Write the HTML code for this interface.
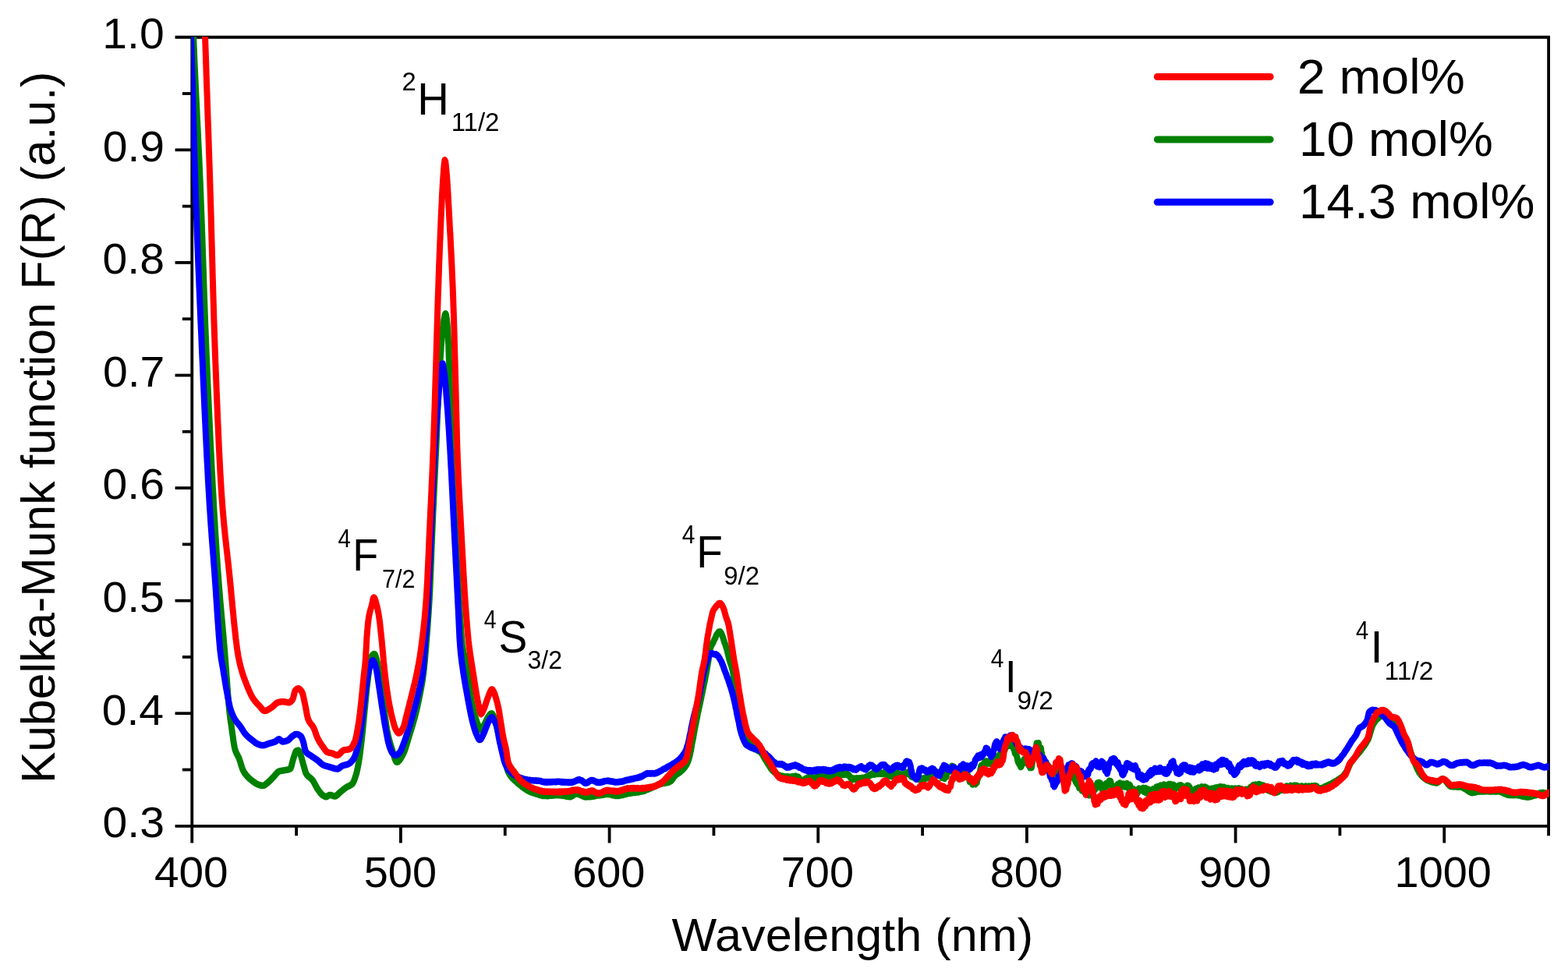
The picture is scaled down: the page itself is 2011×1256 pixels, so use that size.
<!DOCTYPE html>
<html lang="en"><head><meta charset="utf-8"><title>Kubelka-Munk function F(R) vs Wavelength</title>
<style>html,body{margin:0;padding:0;background:#fff}body{width:2011px;height:1256px;overflow:hidden}svg{display:block}text{font-family:'Liberation Sans', Arial, Helvetica, sans-serif;fill:#000}</style>
</head><body>
<svg xmlns="http://www.w3.org/2000/svg" width="2011" height="1256" viewBox="0 0 2011 1256">
<rect x="0" y="0" width="2011" height="1256" fill="#fff"/>
<defs><clipPath id="plot"><rect x="245.40" y="47.10" width="1741.30" height="1013.50"/></clipPath></defs>
<g stroke="#000" stroke-width="3.80" fill="none" stroke-linecap="butt">
<path d="M224.55,47.75 H1988.00"/>
<path d="M224.55,1059.80 H1988.00"/>
<path d="M246.25,47.75 V1081.50"/>
<path d="M1986.10,47.75 V1072.20"/>
<path d="M224.55,192.33 H246.25"/>
<path d="M224.55,336.91 H246.25"/>
<path d="M224.55,481.49 H246.25"/>
<path d="M224.55,626.06 H246.25"/>
<path d="M224.55,770.64 H246.25"/>
<path d="M224.55,915.22 H246.25"/>
<path d="M233.85,120.04 H246.25"/>
<path d="M233.85,264.62 H246.25"/>
<path d="M233.85,409.20 H246.25"/>
<path d="M233.85,553.78 H246.25"/>
<path d="M233.85,698.35 H246.25"/>
<path d="M233.85,842.93 H246.25"/>
<path d="M233.85,987.51 H246.25"/>
<path d="M513.92,1059.80 V1081.50"/>
<path d="M781.59,1059.80 V1081.50"/>
<path d="M1049.26,1059.80 V1081.50"/>
<path d="M1316.93,1059.80 V1081.50"/>
<path d="M1584.60,1059.80 V1081.50"/>
<path d="M1852.27,1059.80 V1081.50"/>
<path d="M380.08,1059.80 V1072.20"/>
<path d="M647.75,1059.80 V1072.20"/>
<path d="M915.42,1059.80 V1072.20"/>
<path d="M1183.09,1059.80 V1072.20"/>
<path d="M1450.76,1059.80 V1072.20"/>
<path d="M1718.43,1059.80 V1072.20"/>
</g>
<g clip-path="url(#plot)"><g transform="scale(0.940,1)" fill="none" stroke-width="8.50">
<path stroke="#008000" stroke-linejoin="round" stroke-linecap="round" d="M1072.9,997.0 1073.5,997.2 1074.1,997.0 1074.8,996.4 1075.4,996.9 1076.1,996.7 1076.7,996.8 1077.3,996.8 1078.0,996.9 1078.6,997.2 1079.3,996.4 1079.9,996.5 1080.5,996.7 1081.2,997.1 1081.8,996.2 1082.4,996.3 1083.1,996.1 1083.7,996.6 1084.4,996.5 1085.0,996.3 1085.6,995.8 1086.3,996.6 1086.9,996.6 1087.6,996.5 1088.2,996.8 1088.8,996.6 1089.5,997.0 1090.1,997.9 1090.7,998.8 1091.4,999.5 1092.0,1000.5 1092.7,1000.4 1093.3,1001.3 1093.9,1001.7 1094.6,1001.2 1095.2,1001.7 1095.9,1001.5 1096.5,1001.3 1097.1,1000.5 1097.8,1000.1 1098.4,999.4 1099.0,998.9 1099.7,999.9 1100.3,999.0 1101.0,999.2 1101.6,997.7 1102.2,997.6 1102.9,997.5 1103.5,997.2 1104.1,998.1 1104.8,998.7 1105.4,997.9 1106.1,997.6 1106.7,997.9 1107.3,997.4 1108.0,998.1 1108.6,998.9 1109.3,998.9 1109.9,997.7 1110.5,997.8 1111.2,998.8 1111.8,998.0 1112.4,999.0 1113.1,998.9 1113.7,998.0 1114.4,997.6 1115.0,997.4 1115.6,996.1 1116.3,996.8 1116.9,996.4 1117.6,995.3 1118.2,996.2 1118.8,995.3 1119.5,995.5 1120.1,996.4 1120.7,996.0 1121.4,995.5 1122.0,995.4 1122.7,997.0 1123.3,996.0 1123.9,996.3 1124.6,996.4 1125.2,996.6 1125.9,996.7 1126.5,997.8 1127.1,997.4 1127.8,996.7 1128.4,998.0 1129.0,997.5 1129.7,997.3 1130.3,997.2 1131.0,997.6 1131.6,998.4 1132.2,997.1 1132.9,997.5 1133.5,997.7 1134.1,998.6 1134.8,998.4 1135.4,998.3 1136.1,997.0 1136.7,997.3 1137.3,998.1 1138.0,996.9 1138.6,997.0 1139.3,996.0 1139.9,995.8 1140.5,995.7 1141.2,995.1 1141.8,995.4 1142.4,995.0 1143.1,995.0 1143.7,994.6 1144.4,994.1 1145.0,993.3 1145.6,993.7 1146.3,994.2 1146.9,993.5 1147.6,992.9 1148.2,993.4 1148.8,993.4 1149.5,993.7 1150.1,993.9 1150.7,992.4 1151.4,992.8 1152.0,992.6 1152.7,992.4 1153.3,993.9 1153.9,993.2 1154.6,992.5 1155.2,993.9 1155.9,993.8 1156.5,993.1 1157.1,993.3 1157.8,994.4 1158.4,994.8 1159.0,995.5 1159.7,997.1 1160.3,997.1 1161.0,998.2 1161.6,999.1 1162.2,998.0 1162.9,1000.1 1163.5,1000.3 1164.1,1000.1 1164.8,998.7 1165.4,998.7 1166.1,998.7 1166.7,999.3 1167.3,1000.0 1168.0,999.9 1168.6,998.3 1169.3,999.6 1169.9,998.5 1170.5,998.6 1171.2,998.5 1171.8,999.6 1172.4,998.6 1173.1,999.6 1173.7,998.3 1174.4,998.3 1175.0,998.0 1175.6,998.1 1176.3,997.8 1176.9,997.8 1177.6,998.6 1178.2,998.0 1178.8,998.8 1179.5,997.8 1180.1,998.0 1180.7,997.0 1181.4,998.2 1182.0,997.5 1182.7,996.4 1183.3,997.0 1183.9,995.6 1184.6,995.8 1185.2,995.8 1185.9,995.6 1186.5,994.9 1187.1,993.9 1187.8,993.4 1188.4,994.2 1189.0,993.8 1189.7,993.4 1190.3,992.4 1191.0,992.7 1191.6,993.8 1192.2,992.5 1192.9,993.8 1193.5,992.6 1194.1,992.6 1194.8,991.8 1195.4,992.1 1196.1,992.9 1196.7,992.7 1197.3,993.1 1198.0,991.6 1198.6,991.6 1199.3,992.2 1199.9,992.8 1200.5,992.3 1201.2,992.6 1201.8,991.3 1202.4,992.9 1203.1,992.5 1203.7,992.6 1204.4,993.0 1205.0,992.8 1205.6,991.5 1206.3,991.8 1206.9,992.4 1207.6,993.3 1208.2,992.2 1208.8,992.6 1209.5,993.9 1210.1,992.8 1210.7,994.5 1211.4,993.9 1212.0,995.0 1212.7,994.7 1213.3,995.2 1213.9,995.6 1214.6,994.5 1215.2,995.2 1215.9,996.0 1216.5,995.5 1217.1,994.2 1217.8,994.9 1218.4,994.7 1219.0,992.8 1219.7,994.2 1220.3,993.1 1221.0,993.0 1221.6,992.5 1222.2,991.9 1222.9,992.7 1223.5,993.2 1224.1,992.5 1224.8,991.6 1225.4,992.9 1226.1,992.7 1226.7,994.0 1227.3,993.3 1228.0,994.6 1228.6,994.7 1229.3,993.3 1229.9,994.6 1230.5,994.1 1231.2,994.0 1231.8,994.8 1232.4,995.3 1233.1,994.8 1233.7,993.0 1234.4,993.8 1235.0,993.5 1235.6,992.3 1236.3,993.0 1236.9,992.8 1237.6,990.7 1238.2,990.7 1238.8,991.4 1239.5,990.9 1240.1,992.1 1240.7,992.7 1241.4,994.3 1242.0,994.8 1242.7,995.5 1243.3,996.0 1243.9,996.7 1244.6,996.1 1245.2,995.8 1245.9,996.7 1246.5,997.0 1247.1,997.7 1247.8,997.5 1248.4,998.8 1249.0,998.4 1249.7,998.3 1250.3,998.2 1251.0,998.7 1251.6,999.7 1252.2,999.1 1252.9,998.8 1253.5,1000.1 1254.1,999.4 1254.8,999.3 1255.4,1000.1 1256.1,998.9 1256.7,999.1 1257.3,999.3 1258.0,1000.3 1258.6,998.4 1259.3,1000.1 1259.9,999.8 1260.5,998.3 1261.2,999.5 1261.8,999.5 1262.4,999.3 1263.1,998.1 1263.7,998.2 1264.4,997.3 1265.0,996.6 1265.6,997.6 1266.3,997.9 1266.9,996.5 1267.6,995.6 1268.2,995.6 1268.8,993.8 1269.5,994.4 1270.1,993.0 1270.7,992.3 1271.4,991.4 1272.0,992.9 1272.7,992.3 1273.3,991.7 1273.9,991.7 1274.6,991.2 1275.2,990.7 1275.9,988.9 1276.5,990.9 1277.1,991.5 1277.8,991.4 1278.4,991.3 1279.0,991.4 1279.7,990.8 1280.3,991.1 1281.0,992.5 1281.6,993.6 1282.2,992.1 1282.9,994.3 1283.5,993.4 1284.1,993.9 1284.8,994.8 1285.4,998.1 1286.1,995.9 1286.7,997.5 1287.3,997.4 1288.0,998.2 1288.6,999.0 1289.3,996.0 1289.9,996.6 1290.5,994.0 1291.2,996.6 1291.8,991.9 1292.4,991.4 1293.1,991.5 1293.7,990.8 1294.4,988.5 1295.0,990.0 1295.6,987.9 1296.3,989.3 1296.9,985.7 1297.6,984.0 1298.2,987.2 1298.8,982.7 1299.5,984.5 1300.1,983.4 1300.7,986.2 1301.4,983.6 1302.0,985.0 1302.7,988.1 1303.3,988.8 1303.9,989.3 1304.6,990.5 1305.2,992.9 1305.9,994.7 1306.5,997.7 1307.1,996.3 1307.8,995.8 1308.4,999.6 1309.0,999.1 1309.7,998.4 1310.3,995.0 1311.0,996.6 1311.6,995.0 1312.2,993.5 1312.9,995.5 1313.5,994.0 1314.1,993.4 1314.8,989.8 1315.4,989.0 1316.1,992.1 1316.7,990.8 1317.3,987.7 1318.0,989.5 1318.6,991.5 1319.3,990.9 1319.9,994.4 1320.5,994.8 1321.2,996.6 1321.8,998.8 1322.4,999.3 1323.1,1002.8 1323.7,1002.7 1324.4,1002.8 1325.0,1002.0 1325.6,1003.4 1326.3,1003.1 1326.9,1006.5 1327.6,1004.7 1328.2,1004.2 1328.8,1004.4 1329.5,1004.6 1330.1,1004.7 1330.7,1006.2 1331.4,1004.7 1332.0,1002.2 1332.7,1004.4 1333.3,1001.2 1333.9,997.9 1334.6,998.1 1335.2,996.7 1335.9,994.5 1336.5,995.1 1337.1,989.9 1337.8,986.4 1338.4,983.3 1339.0,981.8 1339.7,984.9 1340.3,983.6 1341.0,981.1 1341.6,980.4 1342.2,979.7 1342.9,979.2 1343.5,977.3 1344.1,978.1 1344.8,979.3 1345.4,976.6 1346.1,976.6 1346.7,979.6 1347.3,976.7 1348.0,979.7 1348.6,977.4 1349.3,977.2 1349.9,979.6 1350.5,976.7 1351.2,979.9 1351.8,979.9 1352.4,979.1 1353.1,978.0 1353.7,976.8 1354.4,978.0 1355.0,976.0 1355.6,978.7 1356.3,976.7 1356.9,976.3 1357.6,975.5 1358.2,975.3 1358.8,972.8 1359.5,974.0 1360.1,975.5 1360.7,974.1 1361.4,970.6 1362.0,973.6 1362.7,970.8 1363.3,968.8 1363.9,971.3 1364.6,966.9 1365.2,967.2 1365.9,964.8 1366.5,968.1 1367.1,963.4 1367.8,963.2 1368.4,965.7 1369.0,965.4 1369.7,963.9 1370.3,960.4 1371.0,962.1 1371.6,959.0 1372.2,958.1 1372.9,958.6 1373.5,956.5 1374.1,954.1 1374.8,954.4 1375.4,955.7 1376.1,956.8 1376.7,954.3 1377.3,953.1 1378.0,952.7 1378.6,956.8 1379.3,955.6 1379.9,953.4 1380.5,954.3 1381.2,955.9 1381.8,957.5 1382.4,957.9 1383.1,961.2 1383.7,961.4 1384.4,964.7 1385.0,966.6 1385.6,967.4 1386.3,968.4 1386.9,969.3 1387.6,971.0 1388.2,974.3 1388.8,976.7 1389.5,978.4 1390.1,977.3 1390.7,980.5 1391.4,980.5 1392.0,981.5 1392.7,984.1 1393.3,983.6 1393.9,980.1 1394.6,980.7 1395.2,976.9 1395.9,976.6 1396.5,976.9 1397.1,974.3 1397.8,973.7 1398.4,975.9 1399.0,974.5 1399.7,978.7 1400.3,977.0 1401.0,977.6 1401.6,975.9 1402.2,975.6 1402.9,980.0 1403.5,981.8 1404.1,980.2 1404.8,980.0 1405.4,985.1 1406.1,983.3 1406.7,983.3 1407.3,985.0 1408.0,981.7 1408.6,977.3 1409.3,974.8 1409.9,973.0 1410.5,969.3 1411.2,965.5 1411.8,964.3 1412.4,963.2 1413.1,961.2 1413.7,959.0 1414.4,953.4 1415.0,955.9 1415.6,956.6 1416.3,957.5 1416.9,953.3 1417.6,958.2 1418.2,958.5 1418.8,959.0 1419.5,961.3 1420.1,959.3 1420.7,964.3 1421.4,966.0 1422.0,969.8 1422.7,971.6 1423.3,976.3 1423.9,976.4 1424.6,975.1 1425.2,976.5 1425.9,978.0 1426.5,979.2 1427.1,977.7 1427.8,981.0 1428.4,982.7 1429.0,983.4 1429.7,981.9 1430.3,982.7 1431.0,985.9 1431.6,984.0 1432.2,984.2 1432.9,986.5 1433.5,985.3 1434.1,988.7 1434.8,989.8 1435.4,990.8 1436.1,990.1 1436.7,993.8 1437.3,992.3 1438.0,991.5 1438.6,990.2 1439.3,991.6 1439.9,987.9 1440.5,990.3 1441.2,990.4 1441.8,988.1 1442.4,984.3 1443.1,986.5 1443.7,987.2 1444.4,986.2 1445.0,986.1 1445.6,985.3 1446.3,982.8 1446.9,984.9 1447.6,985.7 1448.2,984.8 1448.8,991.1 1449.5,990.6 1450.1,993.4 1450.7,996.4 1451.4,996.0 1452.0,999.7 1452.7,996.9 1453.3,999.9 1453.9,1003.7 1454.6,1003.6 1455.2,1002.4 1455.9,999.1 1456.5,999.7 1457.1,999.8 1457.8,996.8 1458.4,995.2 1459.0,992.4 1459.7,992.5 1460.3,989.4 1461.0,989.6 1461.6,993.4 1462.2,990.8 1462.9,994.3 1463.5,995.6 1464.1,995.8 1464.8,997.5 1465.4,998.3 1466.1,1000.3 1466.7,996.8 1467.3,999.0 1468.0,1004.0 1468.6,1000.2 1469.3,1003.2 1469.9,1006.4 1470.5,1006.0 1471.2,1004.1 1471.8,1004.3 1472.4,1010.9 1473.1,1009.7 1473.7,1008.9 1474.4,1011.3 1475.0,1008.3 1475.6,1012.5 1476.3,1014.5 1476.9,1012.0 1477.6,1012.5 1478.2,1013.5 1478.8,1012.7 1479.5,1016.2 1480.1,1017.0 1480.7,1017.4 1481.4,1018.1 1482.0,1017.2 1482.7,1017.9 1483.3,1015.4 1483.9,1018.2 1484.6,1019.1 1485.2,1015.5 1485.9,1020.3 1486.5,1015.3 1487.1,1017.3 1487.8,1020.2 1488.4,1014.1 1489.0,1014.7 1489.7,1016.6 1490.3,1017.6 1491.0,1016.8 1491.6,1013.3 1492.2,1010.1 1492.9,1012.7 1493.5,1013.5 1494.1,1009.0 1494.8,1012.2 1495.4,1007.5 1496.1,1009.9 1496.7,1007.9 1497.3,1004.5 1498.0,1006.6 1498.6,1006.1 1499.3,1003.9 1499.9,1007.7 1500.5,1004.1 1501.2,1009.6 1501.8,1005.8 1502.4,1009.5 1503.1,1012.0 1503.7,1007.5 1504.4,1007.5 1505.0,1008.8 1505.6,1007.4 1506.3,1009.6 1506.9,1010.9 1507.6,1008.1 1508.2,1007.6 1508.8,1009.9 1509.5,1004.9 1510.1,1006.2 1510.7,1004.8 1511.4,1004.2 1512.0,1006.0 1512.7,1006.2 1513.3,1001.8 1513.9,1004.0 1514.6,1003.1 1515.2,1002.1 1515.9,1005.7 1516.5,1006.9 1517.1,1007.3 1517.8,1011.5 1518.4,1012.4 1519.0,1010.3 1519.7,1012.0 1520.3,1008.9 1521.0,1013.5 1521.6,1008.9 1522.2,1008.9 1522.9,1009.8 1523.5,1010.0 1524.1,1009.2 1524.8,1006.6 1525.4,1005.6 1526.1,1005.5 1526.7,1010.1 1527.3,1009.6 1528.0,1004.5 1528.6,1006.6 1529.3,1009.1 1529.9,1006.4 1530.5,1007.4 1531.2,1008.7 1531.8,1005.8 1532.4,1005.5 1533.1,1009.1 1533.7,1009.2 1534.4,1007.6 1535.0,1009.5 1535.6,1007.4 1536.3,1007.6 1536.9,1007.4 1537.6,1005.0 1538.2,1008.7 1538.8,1007.3 1539.5,1011.3 1540.1,1011.7 1540.7,1006.6 1541.4,1011.0 1542.0,1007.8 1542.7,1012.9 1543.3,1012.1 1543.9,1013.5 1544.6,1012.0 1545.2,1015.0 1545.9,1016.5 1546.5,1012.3 1547.1,1013.3 1547.8,1017.3 1548.4,1013.9 1549.0,1013.6 1549.7,1013.8 1550.3,1016.5 1551.0,1013.9 1551.6,1018.3 1552.2,1016.9 1552.9,1014.6 1553.5,1012.1 1554.1,1011.6 1554.8,1012.1 1555.4,1013.2 1556.1,1013.9 1556.7,1012.8 1557.3,1013.8 1558.0,1012.2 1558.6,1013.9 1559.3,1012.8 1559.9,1010.8 1560.5,1015.7 1561.2,1016.0 1561.8,1014.1 1562.4,1011.4 1563.1,1011.1 1563.7,1017.3 1564.4,1016.2 1565.0,1015.6 1565.6,1012.7 1566.3,1014.0 1566.9,1012.6 1567.6,1017.2 1568.2,1014.8 1568.8,1018.4 1569.5,1015.3 1570.1,1014.8 1570.7,1013.9 1571.4,1016.9 1572.0,1015.9 1572.7,1016.8 1573.3,1012.3 1573.9,1012.2 1574.6,1014.3 1575.2,1014.1 1575.9,1012.9 1576.5,1012.3 1577.1,1011.0 1577.8,1009.6 1578.4,1014.3 1579.0,1012.8 1579.7,1008.9 1580.3,1013.6 1581.0,1010.4 1581.6,1010.0 1582.2,1008.7 1582.9,1010.4 1583.5,1007.6 1584.1,1008.1 1584.8,1011.5 1585.4,1009.3 1586.1,1011.6 1586.7,1010.8 1587.3,1009.7 1588.0,1006.4 1588.6,1009.4 1589.3,1008.7 1589.9,1007.8 1590.5,1007.7 1591.2,1010.7 1591.8,1010.8 1592.4,1007.6 1593.1,1010.8 1593.7,1006.7 1594.4,1006.9 1595.0,1006.0 1595.6,1009.9 1596.3,1011.0 1596.9,1006.0 1597.6,1011.8 1598.2,1008.1 1598.8,1007.1 1599.5,1008.3 1600.1,1011.3 1600.7,1006.8 1601.4,1011.7 1602.0,1010.0 1602.7,1012.6 1603.3,1011.4 1603.9,1012.2 1604.6,1009.6 1605.2,1008.8 1605.9,1010.7 1606.5,1010.9 1607.1,1010.9 1607.8,1008.6 1608.4,1011.1 1609.0,1007.4 1609.7,1008.2 1610.3,1010.5 1611.0,1010.1 1611.6,1007.3 1612.2,1011.1 1612.9,1013.4 1613.5,1008.7 1614.1,1011.5 1614.8,1009.5 1615.4,1011.4 1616.1,1012.8 1616.7,1012.9 1617.3,1011.4 1618.0,1010.0 1618.6,1010.3 1619.3,1012.3 1619.9,1007.8 1620.5,1011.4 1621.2,1011.4 1621.8,1008.2 1622.4,1012.3 1623.1,1009.8 1623.7,1014.3 1624.4,1014.4 1625.0,1012.5 1625.6,1014.7 1626.3,1014.1 1626.9,1015.3 1627.6,1015.7 1628.2,1016.2 1628.8,1017.6 1629.5,1018.2 1630.1,1018.5 1630.7,1015.2 1631.4,1012.0 1632.0,1014.0 1632.7,1011.6 1633.3,1014.0 1633.9,1014.0 1634.6,1010.6 1635.2,1010.5 1635.9,1014.8 1636.5,1012.0 1637.1,1010.7 1637.8,1015.2 1638.4,1011.1 1639.0,1009.9 1639.7,1009.3 1640.3,1009.6 1641.0,1010.4 1641.6,1010.8 1642.2,1015.4 1642.9,1010.2 1643.5,1011.0 1644.1,1009.4 1644.8,1015.1 1645.4,1014.9 1646.1,1010.4 1646.7,1014.1 1647.3,1012.9 1648.0,1015.3 1648.6,1015.1 1649.3,1016.1 1649.9,1013.1 1650.5,1012.4 1651.2,1014.0 1651.8,1014.5 1652.4,1011.7 1653.1,1012.6 1653.7,1014.6 1654.4,1011.5 1655.0,1015.1 1655.6,1013.5 1656.3,1013.6 1656.9,1011.9 1657.6,1012.3 1658.2,1010.4 1658.8,1012.7 1659.5,1014.6 1660.1,1010.2 1660.7,1011.8 1661.4,1010.4 1662.0,1011.8 1662.7,1012.0 1663.3,1010.0 1663.9,1011.1 1664.6,1009.2 1665.2,1009.8 1665.9,1012.0 1666.5,1009.5 1667.1,1010.3 1667.8,1009.7 1668.4,1010.0 1669.0,1012.5 1669.7,1009.7 1670.3,1015.2 1671.0,1015.0 1671.6,1015.3 1672.2,1013.7 1672.9,1015.3 1673.5,1011.0 1674.1,1016.3 1674.8,1012.2 1675.4,1010.9 1676.1,1016.2 1676.7,1012.7 1677.3,1016.3 1678.0,1016.0 1678.6,1015.8 1679.3,1015.5 1679.9,1014.2 1680.5,1011.4 1681.2,1014.8 1681.8,1012.5 1682.4,1016.4 1683.1,1013.0 1683.7,1011.7 1684.4,1015.5 1685.0,1012.7 1685.6,1011.6 1686.3,1014.8 1686.9,1013.0 1687.6,1012.7 1688.2,1013.0 1688.8,1013.2 1689.5,1016.2 1690.1,1011.3 1690.7,1016.1 1691.4,1016.5 1692.0,1014.2 1692.7,1016.7 1693.3,1016.4 1693.9,1012.3 1694.6,1015.6 1695.2,1012.8 1695.9,1014.9 1696.5,1015.0 1697.1,1013.2 1697.8,1014.8 1698.4,1015.2 1699.0,1014.2 1699.7,1012.7 1700.3,1017.9 1701.0,1014.6 1701.6,1017.7 1702.2,1012.9 1702.9,1014.9 1703.5,1016.7 1704.1,1014.2 1704.8,1012.8 1705.4,1010.7 1706.1,1012.1 1706.7,1009.4 1707.3,1013.7 1708.0,1009.3 1708.6,1009.6 1709.3,1009.3 1709.9,1007.1 1710.5,1011.0 1711.2,1009.5 1711.8,1009.4 1712.4,1009.5 1713.1,1006.6 1713.7,1007.7 1714.4,1009.7 1715.0,1007.5 1715.6,1007.6 1716.3,1007.1 1716.9,1008.9 1717.6,1006.0 1718.2,1007.3 1718.8,1007.2 1719.5,1006.6 1720.1,1008.6 1720.7,1006.9 1721.4,1009.6 1722.0,1010.6 1722.7,1009.3 1723.3,1011.3 1723.9,1007.6 1724.6,1010.2 1725.2,1009.7 1725.9,1011.3 1726.5,1010.6 1727.1,1010.5 1727.8,1010.2 1728.4,1012.5 1729.0,1012.9 1729.7,1012.3 1730.3,1014.2 1731.0,1014.1 1731.6,1012.2 1732.2,1014.4 1732.9,1011.8 1733.5,1014.4 1734.1,1015.6 1734.8,1014.1 1735.4,1013.7 1736.1,1015.4 1736.7,1014.0 1737.3,1016.6 1738.0,1016.7 1738.6,1016.3 1739.3,1016.7 1739.9,1015.1 1740.5,1015.3 1741.2,1016.8 1741.8,1016.3 1742.4,1014.2 1743.1,1013.8 1743.7,1016.0 1744.4,1012.8 1745.0,1014.9 1745.6,1012.4 1746.3,1014.0 1746.9,1011.3 1747.6,1013.6 1748.2,1011.9 1748.8,1013.7 1749.5,1012.1 1750.1,1013.3 1750.7,1011.7 1751.4,1011.8 1752.0,1011.8 1752.7,1010.0 1753.3,1010.3 1753.9,1009.5 1754.6,1010.3 1755.2,1008.4 1755.9,1009.5 1756.5,1011.3 1757.1,1010.6 1757.8,1011.1 1758.4,1010.7 1759.0,1011.0 1759.7,1009.5 1760.3,1008.9 1761.0,1007.8 1761.6,1008.1 1762.2,1009.7 1762.9,1010.0 1763.5,1010.1 1764.1,1010.4 1764.8,1009.4 1765.4,1009.6 1766.1,1007.5 1766.7,1008.8 1767.3,1009.6 1768.0,1009.0 1768.6,1008.3 1769.3,1007.8 1769.9,1008.0 1770.5,1010.2 1771.2,1008.8 1771.8,1010.0 1772.4,1009.5 1773.1,1010.0 1773.7,1010.7 1774.4,1009.1 1775.0,1010.7 1775.6,1008.4 1776.3,1010.1 1776.9,1010.1 1777.6,1009.1 1778.2,1010.0 1778.8,1010.0 1779.5,1009.9 1780.1,1010.9 1780.7,1010.1 1781.4,1008.6 1782.0,1008.8 1782.7,1008.9 1783.3,1009.0 1783.9,1009.4 1784.6,1009.8 1785.2,1010.3 1785.9,1008.6 1786.5,1009.6 1787.1,1010.4 1787.8,1009.4 1788.4,1009.8 1789.0,1010.0 1789.7,1008.3 1790.3,1009.3 1791.0,1010.0 1791.6,1009.3 1792.2,1008.8 1792.9,1009.5 1793.5,1009.6 1794.1,1008.0 1794.8,1008.5 1795.4,1009.5 1796.1,1008.4 1796.7,1010.1 1797.3,1011.6 1798.0,1012.1 1798.6,1012.2 1799.3,1012.3 1799.9,1012.1 1800.5,1011.2 1801.2,1012.1 1801.8,1011.2 1802.4,1012.1 1803.1,1012.2 1803.7,1011.9 1804.4,1011.8 1805.0,1010.5 1805.6,1010.9 1806.3,1010.6 1806.9,1010.4 1807.6,1009.1 1808.2,1008.9 1808.8,1008.8 1809.5,1008.7 1810.1,1008.6 1810.7,1008.2 1811.4,1007.5 1812.0,1008.3 1812.7,1006.9 1813.3,1006.9 1813.9,1006.6 1814.6,1006.1 1815.2,1006.0 1815.9,1005.8 1816.5,1005.8 1817.1,1005.6 1817.8,1004.5 1818.4,1004.3 1819.0,1004.1 1819.7,1004.2 1820.3,1003.9 1821.0,1003.6 1821.6,1002.6 1822.2,1002.8 1822.9,1002.7 1823.5,1001.9 1824.1,1001.4 1824.8,1001.7 1825.4,1000.7 1826.1,1000.3"/>
<path stroke="#008000" stroke-linejoin="round" stroke-linecap="round" d="M262.2,0.0 263.1,23.4 263.9,45.4 264.8,65.2 265.6,83.8 266.5,101.4 267.3,118.3 268.2,134.7 269.0,151.0 269.9,167.2 270.7,183.8 271.6,200.8 272.4,218.7 273.3,237.6 274.1,257.8 275.0,279.5 275.9,302.3 276.7,325.6 277.6,349.2 278.4,372.6 279.3,395.4 280.1,417.2 281.0,437.6 281.8,456.7 282.7,475.4 283.5,493.8 284.4,511.7 285.2,529.2 286.1,546.3 286.9,563.0 287.8,579.2 288.6,595.0 289.5,610.5 290.3,625.4 291.2,640.0 292.0,654.2 292.9,667.9 293.7,681.3 294.6,694.2 295.4,706.7 296.3,718.8 297.1,730.3 298.0,741.4 298.8,751.8 299.7,761.7 300.5,771.1 301.4,780.2 302.2,789.1 303.1,797.8 303.9,806.6 304.8,815.6 305.6,824.8 306.5,834.3 307.3,844.4 308.2,855.1 309.0,866.0 309.9,876.5 310.7,887.3 311.6,897.8 312.4,907.3 313.3,915.0 314.1,921.5 315.0,927.2 315.9,932.7 316.7,938.3 317.6,944.2 318.4,950.0 319.3,955.2 320.1,959.4 321.0,962.3 321.8,964.6 322.7,966.4 323.5,968.0 324.4,969.5 325.2,971.1 326.1,972.8 326.9,974.9 327.8,977.4 328.6,980.1 329.5,982.7 330.3,985.2 331.2,987.3 332.0,988.9 332.9,990.4 333.7,991.7 334.6,992.8 335.4,993.9 336.3,994.9 337.1,995.8 338.0,996.6 338.8,997.4 339.7,998.2 340.5,999.0 341.4,999.7 342.2,1000.3 343.1,1001.0 343.9,1001.6 344.8,1002.2 345.6,1002.8 346.5,1003.4 347.3,1003.9 348.2,1004.5 349.0,1005.0 349.9,1005.5 350.7,1005.9 351.6,1006.3 352.4,1006.6 353.3,1006.9 354.1,1007.1 355.0,1007.4 355.9,1007.6 356.7,1007.8 357.6,1007.9 358.4,1008.0 359.3,1007.9 360.1,1007.7 361.0,1007.3 361.8,1006.7 362.7,1006.1 363.5,1005.4 364.4,1004.8 365.2,1004.1 366.1,1003.5 366.9,1002.8 367.8,1002.0 368.6,1001.2 369.5,1000.4 370.3,999.6 371.2,998.7 372.0,997.8 372.9,997.0 373.7,996.2 374.6,995.3 375.4,994.4 376.3,993.4 377.1,992.5 378.0,991.6 378.8,990.8 379.7,990.1 380.5,989.7 381.4,989.4 382.2,989.2 383.1,989.0 383.9,988.9 384.8,988.8 385.6,988.6 386.5,988.5 387.3,988.4 388.2,988.2 389.0,988.1 389.9,987.9 390.7,987.8 391.6,987.6 392.4,987.5 393.3,987.3 394.1,987.1 395.0,986.8 395.9,986.5 396.7,985.3 397.6,982.9 398.4,979.8 399.3,976.5 400.1,973.8 401.0,971.3 401.8,968.7 402.7,966.3 403.5,964.4 404.4,963.4 405.2,963.0 406.1,962.7 406.9,962.6 407.8,963.2 408.6,964.8 409.5,966.9 410.3,969.0 411.2,971.4 412.0,974.3 412.9,977.4 413.7,980.2 414.6,983.1 415.4,986.1 416.3,988.9 417.1,991.3 418.0,992.9 418.8,994.1 419.7,995.1 420.5,995.9 421.4,996.6 422.2,997.2 423.1,997.8 423.9,998.5 424.8,999.2 425.6,1000.0 426.5,1000.9 427.3,1002.1 428.2,1003.5 429.0,1004.9 429.9,1006.5 430.7,1008.0 431.6,1009.5 432.4,1010.9 433.3,1012.1 434.1,1013.3 435.0,1014.5 435.9,1015.6 436.7,1016.7 437.6,1017.7 438.4,1018.6 439.3,1019.4 440.1,1020.0 441.0,1020.6 441.8,1021.1 442.7,1021.6 443.5,1022.0 444.4,1022.2 445.2,1022.3 446.1,1022.0 446.9,1021.5 447.8,1020.9 448.6,1020.4 449.5,1020.0 450.3,1019.9 451.2,1020.0 452.0,1020.2 452.9,1020.5 453.7,1020.8 454.6,1021.1 455.4,1021.3 456.3,1021.5 457.1,1021.5 458.0,1021.3 458.8,1020.8 459.7,1020.2 460.5,1019.5 461.4,1018.7 462.2,1017.9 463.1,1017.1 463.9,1016.5 464.8,1015.9 465.6,1015.2 466.5,1014.5 467.3,1013.9 468.2,1013.2 469.0,1012.5 469.9,1011.9 470.7,1011.3 471.6,1010.7 472.4,1010.1 473.3,1009.7 474.1,1009.2 475.0,1008.9 475.9,1008.5 476.7,1008.1 477.6,1007.7 478.4,1007.2 479.3,1006.7 480.1,1006.0 481.0,1005.2 481.8,1003.9 482.7,1002.3 483.5,1000.4 484.4,998.1 485.2,995.7 486.1,993.1 486.9,990.0 487.8,986.3 488.6,982.2 489.5,977.7 490.3,972.8 491.2,967.1 492.0,960.8 492.9,953.9 493.7,946.9 494.6,939.6 495.4,931.8 496.3,923.5 497.1,915.3 498.0,907.2 498.8,898.8 499.7,890.6 500.5,882.9 501.4,876.0 502.2,869.4 503.1,863.4 503.9,858.0 504.8,853.0 505.6,848.0 506.5,843.9 507.3,841.6 508.2,840.6 509.0,839.8 509.9,839.2 510.7,839.0 511.6,839.6 512.4,841.5 513.3,844.2 514.1,847.2 515.0,850.7 515.9,855.4 516.7,860.9 517.6,866.6 518.4,872.0 519.3,877.4 520.1,883.0 521.0,888.7 521.8,894.4 522.7,900.1 523.5,905.7 524.4,911.6 525.2,917.7 526.1,923.8 526.9,929.7 527.8,935.0 528.6,939.5 529.5,943.3 530.3,946.7 531.2,949.8 532.0,952.7 532.9,955.4 533.7,958.0 534.6,960.5 535.4,962.9 536.3,965.6 537.1,968.4 538.0,971.2 538.8,973.7 539.7,975.7 540.5,977.1 541.4,977.7 542.2,977.6 543.1,977.2 543.9,976.5 544.8,975.6 545.6,974.6 546.5,973.4 547.3,972.1 548.2,970.7 549.0,969.2 549.9,967.8 550.7,966.2 551.6,964.4 552.4,962.2 553.3,959.9 554.1,957.3 555.0,954.7 555.9,952.0 556.7,949.2 557.6,946.5 558.4,943.8 559.3,941.3 560.1,938.7 561.0,936.1 561.8,933.5 562.7,930.8 563.5,928.1 564.4,925.3 565.2,922.5 566.1,919.5 566.9,916.4 567.8,913.2 568.6,909.9 569.5,906.4 570.3,902.8 571.2,899.1 572.0,895.3 572.9,891.3 573.7,887.3 574.6,883.1 575.4,878.7 576.3,873.9 577.1,868.6 578.0,862.4 578.8,855.5 579.7,847.4 580.5,838.3 581.4,828.6 582.2,818.7 583.1,808.4 583.9,797.5 584.8,786.0 585.6,773.7 586.5,759.1 587.3,740.9 588.2,720.5 589.0,699.6 589.9,680.0 590.7,662.0 591.6,644.5 592.4,627.4 593.3,610.4 594.1,593.2 595.0,575.5 595.9,556.5 596.7,536.8 597.6,517.4 598.4,499.3 599.3,483.5 600.1,470.0 601.0,457.2 601.8,445.4 602.7,434.8 603.5,426.0 604.4,419.3 605.2,413.4 606.1,408.0 606.9,404.1 607.8,402.3 608.6,404.0 609.5,409.3 610.3,416.8 611.2,427.2 612.0,445.3 612.9,468.0 613.7,493.8 614.6,528.4 615.4,563.1 616.3,588.1 617.1,607.3 618.0,624.0 618.8,639.0 619.7,653.1 620.5,667.1 621.4,681.9 622.2,697.3 623.1,712.6 623.9,727.8 624.8,742.6 625.6,756.9 626.5,770.5 627.3,783.1 628.2,795.9 629.0,808.3 629.9,819.0 630.7,827.1 631.6,832.3 632.4,836.5 633.3,839.9 634.1,842.8 635.0,845.5 635.9,848.2 636.7,851.2 637.6,854.9 638.4,859.4 639.3,865.9 640.1,874.7 641.0,883.8 641.8,891.1 642.7,896.2 643.5,900.7 644.4,904.7 645.2,908.3 646.1,911.7 646.9,914.7 647.8,917.6 648.6,920.4 649.5,923.0 650.3,925.4 651.2,927.6 652.0,929.6 652.9,931.5 653.7,933.4 654.6,935.2 655.4,936.5 656.3,936.8 657.1,936.2 658.0,935.0 658.8,933.4 659.7,931.8 660.5,930.2 661.4,928.7 662.2,927.0 663.1,925.2 663.9,923.5 664.8,921.8 665.6,920.4 666.5,919.3 667.3,918.1 668.2,917.0 669.0,916.1 669.9,915.5 670.7,915.3 671.6,915.8 672.4,917.0 673.3,918.5 674.1,920.3 675.0,922.3 675.9,925.2 676.7,928.7 677.6,932.3 678.4,935.8 679.3,938.9 680.1,941.8 681.0,944.7 681.6,946.9 682.2,949.2 682.9,951.6 683.5,954.2 684.1,956.8 684.8,959.5 685.4,962.1 686.1,964.6 686.7,966.9 687.3,969.2 688.0,971.4 688.6,973.6 689.3,975.8 689.9,978.0 690.5,980.4 691.2,982.9 691.8,985.4 692.4,987.6 693.1,989.5 693.7,990.9 694.4,992.0 695.0,993.1 695.6,994.1 696.3,995.0 696.9,995.8 697.6,996.6 698.2,997.3 698.8,998.1 699.5,998.7 700.1,999.3 700.7,999.9 701.4,1000.4 702.0,1001.1 702.7,1001.5 703.3,1002.1 703.9,1002.5 704.6,1003.1 705.2,1003.5 705.9,1004.1 706.5,1004.7 707.1,1005.2 707.8,1005.6 708.4,1006.3 709.0,1006.7 709.7,1007.2 710.3,1007.6 711.0,1008.3 711.6,1008.7 712.2,1009.3 712.9,1009.5 713.5,1010.0 714.1,1010.3 714.8,1010.9 715.4,1011.5 716.1,1011.7 716.7,1012.1 717.3,1012.8 718.0,1013.0 718.6,1013.6 719.3,1013.7 719.9,1014.1 720.5,1014.4 721.2,1014.7 721.8,1015.2 722.4,1015.3 723.1,1015.7 723.7,1015.9 724.4,1016.2 725.0,1016.5 725.6,1016.6 726.3,1016.9 726.9,1017.2 727.6,1017.1 728.2,1017.3 728.8,1017.5 729.5,1017.8 730.1,1017.8 730.7,1018.2 731.4,1018.5 732.0,1018.5 732.7,1018.9 733.3,1019.0 733.9,1019.1 734.6,1019.2 735.2,1019.5 735.9,1019.8 736.5,1019.6 737.1,1020.2 737.8,1020.0 738.4,1020.1 739.0,1020.6 739.7,1020.7 740.3,1020.9 741.0,1020.8 741.6,1020.7 742.2,1020.9 742.9,1020.8 743.5,1021.0 744.1,1020.8 744.8,1021.1 745.4,1020.8 746.1,1021.3 746.7,1021.2 747.3,1020.9 748.0,1021.2 748.6,1020.7 749.3,1020.7 749.9,1020.6 750.5,1020.7 751.2,1020.5 751.8,1020.6 752.4,1020.7 753.1,1020.7 753.7,1020.5 754.4,1020.6 755.0,1020.2 755.6,1020.5 756.3,1020.2 756.9,1020.3 757.6,1019.9 758.2,1020.1 758.8,1019.9 759.5,1020.2 760.1,1020.0 760.7,1020.0 761.4,1020.2 762.0,1020.0 762.7,1019.9 763.3,1019.9 763.9,1020.2 764.6,1020.5 765.2,1020.5 765.9,1020.1 766.5,1020.4 767.1,1020.3 767.8,1020.8 768.4,1020.9 769.0,1021.1 769.7,1020.8 770.3,1020.9 771.0,1021.2 771.6,1021.5 772.2,1021.3 772.9,1021.7 773.5,1021.6 774.1,1022.0 774.8,1022.1 775.4,1021.9 776.1,1022.2 776.7,1021.9 777.3,1022.1 778.0,1022.2 778.6,1022.2 779.3,1021.6 779.9,1021.4 780.5,1021.2 781.2,1021.1 781.8,1020.4 782.4,1019.9 783.1,1019.7 783.7,1019.2 784.4,1019.1 785.0,1018.8 785.6,1018.2 786.3,1018.7 786.9,1018.4 787.6,1018.6 788.2,1018.4 788.8,1018.6 789.5,1018.6 790.1,1019.1 790.7,1019.3 791.4,1019.8 792.0,1019.9 792.7,1020.2 793.3,1020.5 793.9,1020.7 794.6,1021.0 795.2,1021.4 795.9,1021.4 796.5,1021.8 797.1,1022.3 797.8,1022.1 798.4,1022.4 799.0,1022.4 799.7,1022.5 800.3,1022.4 801.0,1022.4 801.6,1022.0 802.2,1022.1 802.9,1022.3 803.5,1021.8 804.1,1021.8 804.8,1022.3 805.4,1022.0 806.1,1022.2 806.7,1021.9 807.3,1022.0 808.0,1021.5 808.6,1021.7 809.3,1021.3 809.9,1021.7 810.5,1021.1 811.2,1021.0 811.8,1021.3 812.4,1020.9 813.1,1020.9 813.7,1020.9 814.4,1020.6 815.0,1020.6 815.6,1020.5 816.3,1020.4 816.9,1020.6 817.6,1020.4 818.2,1020.3 818.8,1020.3 819.5,1019.9 820.1,1019.7 820.7,1019.5 821.4,1019.4 822.0,1019.9 822.7,1019.8 823.3,1019.5 823.9,1019.6 824.6,1019.2 825.2,1019.0 825.9,1019.0 826.5,1018.6 827.1,1019.0 827.8,1018.7 828.4,1018.9 829.0,1019.1 829.7,1018.6 830.3,1018.9 831.0,1019.0 831.6,1019.2 832.2,1019.3 832.9,1019.2 833.5,1019.5 834.1,1019.4 834.8,1019.7 835.4,1020.2 836.1,1020.3 836.7,1020.0 837.3,1020.4 838.0,1020.6 838.6,1020.4 839.3,1021.0 839.9,1020.6 840.5,1020.6 841.2,1020.9 841.8,1020.9 842.4,1021.1 843.1,1021.1 843.7,1020.7 844.4,1020.9 845.0,1020.7 845.6,1020.6 846.3,1020.5 846.9,1020.3 847.6,1020.1 848.2,1020.3 848.8,1020.1 849.5,1019.9 850.1,1019.9 850.7,1019.5 851.4,1019.0 852.0,1019.0 852.7,1019.2 853.3,1018.7 853.9,1019.0 854.6,1018.6 855.2,1018.3 855.9,1018.2 856.5,1017.8 857.1,1017.9 857.8,1017.6 858.4,1017.6 859.0,1017.9 859.7,1017.3 860.3,1017.6 861.0,1017.4 861.6,1017.4 862.2,1017.4 862.9,1017.3 863.5,1016.9 864.1,1016.9 864.8,1016.6 865.4,1016.9 866.1,1016.5 866.7,1016.4 867.3,1016.9 868.0,1016.6 868.6,1016.6 869.3,1016.3 869.9,1016.0 870.5,1016.4 871.2,1016.2 871.8,1015.7 872.4,1016.1 873.1,1015.7 873.7,1015.7 874.4,1015.4 875.0,1015.3 875.6,1015.5 876.3,1015.0 876.9,1014.6 877.6,1014.7 878.2,1014.9 878.8,1014.2 879.5,1014.3 880.1,1014.2 880.7,1013.8 881.4,1013.6 882.0,1013.3 882.7,1012.9 883.3,1012.7 883.9,1012.8 884.6,1012.4 885.2,1012.1 885.9,1011.7 886.5,1011.8 887.1,1011.5 887.8,1011.3 888.4,1010.8 889.0,1010.5 889.7,1010.1 890.3,1009.9 891.0,1010.0 891.6,1009.3 892.2,1009.5 892.9,1009.0 893.5,1008.9 894.1,1008.4 894.8,1008.3 895.4,1007.9 896.1,1007.8 896.7,1007.3 897.3,1007.2 898.0,1007.0 898.6,1006.4 899.3,1006.0 899.9,1006.2 900.5,1006.1 901.2,1005.9 901.8,1005.2 902.4,1005.5 903.1,1005.2 903.7,1005.1 904.4,1004.7 905.0,1005.0 905.6,1004.5 906.3,1004.7 906.9,1004.4 907.6,1004.7 908.2,1004.4 908.8,1004.1 909.5,1004.1 910.1,1003.7 910.7,1003.7 911.4,1003.9 912.0,1003.7 912.7,1003.1 913.3,1003.0 913.9,1002.8 914.6,1002.5 915.2,1002.4 915.9,1001.2 916.5,1000.6 917.1,1000.2 917.8,999.1 918.4,998.3 919.0,997.7 919.7,996.5 920.3,995.6 921.0,995.6 921.6,994.6 922.2,993.9 922.9,993.4 923.5,993.4 924.1,992.8 924.8,992.4 925.4,992.4 926.1,991.9 926.7,991.4 927.3,991.0 928.0,990.0 928.6,990.1 929.3,988.8 929.9,988.7 930.5,988.4 931.2,987.8 931.8,987.1 932.4,986.6 933.1,985.7 933.7,984.7 934.4,984.5 935.0,983.2 935.6,982.5 936.3,981.6 936.9,980.7 937.6,979.3 938.2,977.9 938.8,976.8 939.5,974.6 940.1,972.9 940.7,970.7 941.4,968.2 942.0,965.3 942.7,962.5 943.3,959.1 943.9,955.3 944.6,952.1 945.2,949.5 945.9,946.2 946.5,942.6 947.1,939.5 947.8,936.2 948.4,933.0 949.0,929.9 949.7,927.0 950.3,923.9 951.0,920.9 951.6,917.5 952.2,914.7 952.9,912.2 953.5,909.4 954.1,906.4 954.8,903.9 955.4,901.2 956.1,898.2 956.7,895.4 957.3,892.2 958.0,889.6 958.6,886.5 959.3,883.8 959.9,880.9 960.5,877.7 961.2,875.1 961.8,872.2 962.4,868.9 963.1,865.6 963.7,862.6 964.4,859.2 965.0,855.8 965.6,852.4 966.3,848.8 966.9,845.1 967.6,840.3 968.2,835.6 968.8,832.7 969.5,830.8 970.1,829.2 970.7,827.7 971.4,827.0 972.0,825.6 972.7,825.0 973.3,823.5 973.9,822.2 974.6,820.7 975.2,819.9 975.9,818.5 976.5,817.1 977.1,815.7 977.8,814.3 978.4,813.6 979.0,812.7 979.7,812.1 980.3,811.1 981.0,810.5 981.6,810.5 982.2,810.3 982.9,810.7 983.5,811.4 984.1,812.5 984.8,813.8 985.4,815.3 986.1,817.1 986.7,818.5 987.3,820.7 988.0,822.7 988.6,824.7 989.3,825.8 989.9,827.7 990.5,829.4 991.2,831.6 991.8,833.5 992.4,835.7 993.1,838.4 993.7,840.9 994.4,843.5 995.0,845.8 995.6,847.8 996.3,850.0 996.9,851.4 997.6,853.6 998.2,855.0 998.8,857.6 999.5,859.6 1000.1,862.6 1000.7,865.8 1001.4,869.7 1002.0,874.2 1002.7,878.4 1003.3,883.0 1003.9,887.6 1004.6,891.3 1005.2,895.0 1005.9,898.4 1006.5,901.8 1007.1,905.2 1007.8,908.0 1008.4,911.1 1009.0,914.4 1009.7,917.1 1010.3,920.3 1011.0,922.5 1011.6,925.4 1012.2,928.0 1012.9,930.3 1013.5,932.0 1014.1,934.1 1014.8,936.7 1015.4,937.9 1016.1,940.1 1016.7,941.7 1017.3,942.6 1018.0,944.3 1018.6,945.6 1019.3,947.1 1019.9,947.8 1020.5,949.0 1021.2,950.0 1021.8,951.1 1022.4,952.3 1023.1,953.1 1023.7,953.7 1024.4,954.8 1025.0,956.0 1025.6,957.1 1026.3,957.6 1026.9,958.6 1027.6,959.1 1028.2,959.7 1028.8,960.2 1029.5,960.6 1030.1,961.2 1030.7,961.2 1031.4,961.5 1032.0,961.7 1032.7,962.0 1033.3,962.1 1033.9,963.0 1034.6,963.3 1035.2,963.5 1035.9,963.8 1036.5,964.0 1037.1,964.6 1037.8,965.3 1038.4,966.0 1039.0,966.6 1039.7,967.4 1040.3,968.1 1041.0,969.0 1041.6,970.6 1042.2,971.2 1042.9,972.4 1043.5,973.7 1044.1,974.1 1044.8,975.4 1045.4,976.3 1046.1,977.2 1046.7,978.3 1047.3,979.3 1048.0,980.4 1048.6,981.1 1049.3,981.8 1049.9,983.1 1050.5,984.0 1051.2,984.6 1051.8,986.0 1052.4,986.2 1053.1,987.7 1053.7,988.1 1054.4,988.9 1055.0,989.1 1055.6,989.6 1056.3,990.6 1056.9,990.7 1057.6,991.6 1058.2,992.1 1058.8,992.1 1059.5,992.8 1060.1,993.0 1060.7,993.9 1061.4,994.2 1062.0,994.6 1062.7,994.5 1063.3,995.3 1063.9,994.9 1064.6,995.6 1065.2,995.6 1065.9,996.0 1066.5,996.3 1067.1,995.8 1067.8,996.5 1068.4,996.8 1069.0,996.7 1069.7,996.1 1070.3,996.2 1071.0,997.0 1071.6,996.8 1072.2,996.6 1072.9,997.0 1073.5,997.2 1074.1,997.0"/>
<path stroke="#008000" stroke-linejoin="round" stroke-linecap="round" d="M1824.8,1001.7 1825.4,1000.7 1826.1,1000.3 1826.7,999.9 1827.3,999.8 1828.0,998.8 1828.6,998.8 1829.3,998.6 1829.9,997.4 1830.5,997.4 1831.2,996.7 1831.8,996.5 1832.4,995.8 1833.1,995.2 1833.7,994.6 1834.4,993.7 1835.0,992.6 1835.6,992.0 1836.3,991.3 1836.9,990.5 1837.6,989.1 1838.2,988.4 1838.8,987.1 1839.5,985.8 1840.1,984.2 1840.7,983.1 1841.4,981.6 1842.0,980.2 1842.7,979.0 1843.3,978.5 1843.9,977.0 1844.6,976.7 1845.2,975.8 1845.9,974.9 1846.5,974.0 1847.1,973.4 1847.8,972.5 1848.4,971.7 1849.0,971.1 1849.7,970.4 1850.3,969.8 1851.0,969.2 1851.6,968.2 1852.2,967.7 1852.9,967.0 1853.5,966.3 1854.1,965.7 1854.8,964.9 1855.4,964.3 1856.1,963.6 1856.7,962.8 1857.3,961.7 1858.0,960.9 1858.6,960.2 1859.3,959.3 1859.9,958.5 1860.5,957.7 1861.2,957.1 1861.8,956.0 1862.4,955.3 1863.1,954.5 1863.7,953.4 1864.4,952.4 1865.0,951.2 1865.6,950.2 1866.3,949.4 1866.9,948.1 1867.6,946.3 1868.2,944.9 1868.8,942.7 1869.5,940.4 1870.1,938.7 1870.7,936.2 1871.4,934.6 1872.0,932.6 1872.7,931.2 1873.3,929.8 1873.9,928.6 1874.6,927.8 1875.2,926.9 1875.9,925.9 1876.5,924.8 1877.1,924.4 1877.8,923.5 1878.4,922.8 1879.0,922.3 1879.7,922.0 1880.3,921.5 1881.0,920.7 1881.6,920.4 1882.2,919.9 1882.9,919.3 1883.5,919.0 1884.1,918.4 1884.8,918.4 1885.4,918.2 1886.1,918.2 1886.7,918.3 1887.3,918.4 1888.0,918.3 1888.6,918.9 1889.3,918.9 1889.9,918.9 1890.5,919.2 1891.2,919.7 1891.8,919.7 1892.4,920.2 1893.1,920.5 1893.7,920.5 1894.4,920.6 1895.0,921.1 1895.6,921.5 1896.3,921.7 1896.9,922.1 1897.6,922.4 1898.2,922.6 1898.8,922.7 1899.5,923.2 1900.1,923.7 1900.7,923.8 1901.4,924.3 1902.0,925.1 1902.7,925.1 1903.3,925.9 1903.9,926.3 1904.6,926.8 1905.2,927.3 1905.9,927.4 1906.5,927.9 1907.1,928.6 1907.8,929.4 1908.4,929.8 1909.0,930.5 1909.7,931.3 1910.3,932.0 1911.0,932.9 1911.6,934.2 1912.2,935.1 1912.9,936.9 1913.5,938.5 1914.1,940.0 1914.8,941.7 1915.4,942.8 1916.1,944.4 1916.7,945.5 1917.3,946.7 1918.0,947.5 1918.6,948.6 1919.3,949.7 1919.9,951.1 1920.5,952.4 1921.2,953.7 1921.8,955.9 1922.4,957.7 1923.1,959.5 1923.7,961.6 1924.4,963.7 1925.0,965.5 1925.6,967.3 1926.3,969.2 1926.9,970.6 1927.6,972.3 1928.2,973.9 1928.8,975.8 1929.5,977.2 1930.1,978.7 1930.7,979.9 1931.4,981.2 1932.0,982.8 1932.7,984.1 1933.3,985.4 1933.9,986.9 1934.6,987.8 1935.2,989.2 1935.9,990.4 1936.5,991.3 1937.1,992.2 1937.8,992.7 1938.4,993.8 1939.0,994.4 1939.7,995.0 1940.3,995.9 1941.0,996.3 1941.6,996.9 1942.2,997.4 1942.9,998.0 1943.5,998.5 1944.1,999.0 1944.8,999.3 1945.4,999.7 1946.1,1000.1 1946.7,1000.6 1947.3,1000.9 1948.0,1001.1 1948.6,1001.2 1949.3,1001.7 1949.9,1001.6 1950.5,1001.8 1951.2,1002.2 1951.8,1002.4 1952.4,1002.9 1953.1,1002.9 1953.7,1003.4 1954.4,1003.5 1955.0,1003.3 1955.6,1003.6 1956.3,1003.8 1956.9,1003.9 1957.6,1004.1 1958.2,1004.2 1958.8,1004.3 1959.5,1004.0 1960.1,1004.4 1960.7,1003.8 1961.4,1003.9 1962.0,1003.4 1962.7,1003.0 1963.3,1002.7 1963.9,1001.7 1964.6,1001.5 1965.2,1000.6 1965.9,1000.5 1966.5,1000.0 1967.1,999.6 1967.8,999.2 1968.4,999.4 1969.0,999.5 1969.7,999.8 1970.3,1000.2 1971.0,1000.5 1971.6,1001.0 1972.2,1001.8 1972.9,1002.4 1973.5,1002.9 1974.1,1004.0 1974.8,1004.6 1975.4,1005.6 1976.1,1006.4 1976.7,1006.6 1977.3,1007.3 1978.0,1008.1 1978.6,1008.4 1979.3,1008.9 1979.9,1009.1 1980.5,1009.0 1981.2,1009.0 1981.8,1009.0 1982.4,1009.2 1983.1,1009.2 1983.7,1009.4 1984.4,1009.3 1985.0,1009.3 1985.6,1009.3 1986.3,1009.3 1986.9,1009.3 1987.6,1009.6 1988.2,1009.5 1988.8,1009.2 1989.5,1009.2 1990.1,1009.7 1990.7,1009.5 1991.4,1009.6 1992.0,1009.5 1992.7,1009.5 1993.3,1009.7 1993.9,1009.8 1994.6,1010.1 1995.2,1009.9 1995.9,1010.2 1996.5,1010.7 1997.1,1011.1 1997.8,1011.2 1998.4,1011.8 1999.0,1012.2 1999.7,1012.3 2000.3,1012.9 2001.0,1013.3 2001.6,1013.6 2002.2,1014.0 2002.9,1014.6 2003.5,1015.0 2004.1,1015.6 2004.8,1015.7 2005.4,1015.9 2006.1,1016.3 2006.7,1016.5 2007.3,1016.9 2008.0,1016.7 2008.6,1017.2 2009.3,1017.0 2009.9,1016.7 2010.5,1016.8 2011.2,1016.8 2011.8,1016.7 2012.4,1016.4 2013.1,1016.4 2013.7,1016.0 2014.4,1015.9 2015.0,1015.9 2015.6,1015.7 2016.3,1015.5 2016.9,1015.6 2017.6,1015.3 2018.2,1015.6 2018.8,1015.2 2019.5,1015.3 2020.1,1015.3 2020.7,1015.1 2021.4,1015.5 2022.0,1015.5 2022.7,1015.2 2023.3,1015.5 2023.9,1015.4 2024.6,1015.3 2025.2,1015.5 2025.9,1015.4 2026.5,1015.3 2027.1,1015.1 2027.8,1015.2 2028.4,1015.2 2029.0,1015.2 2029.7,1015.2 2030.3,1015.1 2031.0,1015.4 2031.6,1015.5 2032.2,1015.2 2032.9,1015.4 2033.5,1015.4 2034.1,1015.2 2034.8,1015.5 2035.4,1015.6 2036.1,1015.3 2036.7,1015.3 2037.3,1015.1 2038.0,1015.2 2038.6,1015.3 2039.3,1015.5 2039.9,1015.1 2040.5,1015.1 2041.2,1015.5 2041.8,1015.4 2042.4,1015.5 2043.1,1015.3 2043.7,1015.1 2044.4,1015.2 2045.0,1015.1 2045.6,1015.5 2046.3,1015.6 2046.9,1015.8 2047.6,1015.7 2048.2,1016.2 2048.8,1016.1 2049.5,1016.7 2050.1,1016.6 2050.7,1017.1 2051.4,1017.4 2052.0,1017.9 2052.7,1017.9 2053.3,1018.3 2053.9,1018.5 2054.6,1018.6 2055.2,1019.3 2055.9,1019.3 2056.5,1019.4 2057.1,1019.8 2057.8,1020.0 2058.4,1019.9 2059.0,1019.8 2059.7,1019.9 2060.3,1020.0 2061.0,1020.1 2061.6,1020.2 2062.2,1019.9 2062.9,1019.9 2063.5,1020.1 2064.1,1020.2 2064.8,1020.0 2065.4,1020.3 2066.1,1019.9 2066.7,1020.1 2067.3,1020.0 2068.0,1019.9 2068.6,1020.1 2069.3,1019.9 2069.9,1020.2 2070.5,1019.9 2071.2,1020.0 2071.8,1020.3 2072.4,1020.6 2073.1,1020.4 2073.7,1020.4 2074.4,1020.9 2075.0,1021.1 2075.6,1021.2 2076.3,1021.0 2076.9,1021.3 2077.6,1021.7 2078.2,1021.9 2078.8,1021.7 2079.5,1022.0 2080.1,1022.1 2080.7,1022.1 2081.4,1022.3 2082.0,1022.3 2082.7,1022.2 2083.3,1022.6 2083.9,1022.7 2084.6,1022.7 2085.2,1022.6 2085.9,1022.5 2086.5,1022.3 2087.1,1022.3 2087.8,1022.1 2088.4,1022.0 2089.0,1021.8 2089.7,1021.6 2090.3,1021.3 2091.0,1021.1 2091.6,1021.1 2092.2,1020.8 2092.9,1020.8 2093.5,1020.6 2094.1,1020.6 2094.8,1020.0 2095.4,1020.3 2096.1,1019.9 2096.7,1019.6 2097.3,1019.4 2098.0,1019.1 2098.6,1018.5 2099.3,1018.5 2099.9,1018.1 2100.5,1017.5 2101.2,1017.3 2101.8,1017.4 2102.4,1017.3 2103.1,1017.1 2103.7,1017.1 2104.4,1016.9 2105.0,1017.0 2105.6,1017.2 2106.3,1017.1 2106.9,1017.3 2107.6,1017.5 2108.2,1017.9 2108.8,1017.9 2109.5,1017.8 2110.1,1018.3 2110.7,1018.5 2111.4,1018.4 2112.0,1018.3 2112.7,1018.6 2113.3,1018.3 2113.9,1018.7 2114.6,1018.4 2115.2,1018.4 2115.9,1018.6 2116.5,1018.6 2117.1,1018.6 2117.8,1018.4 2118.4,1018.3 2119.0,1018.5 2119.7,1018.6 2120.3,1018.3"/>
<path stroke="#0000ff" stroke-linejoin="round" stroke-linecap="round" d="M1073.4,983.8 1074.0,984.2 1074.7,984.5 1075.3,983.8 1076.0,983.8 1076.6,984.4 1077.2,984.1 1077.9,983.4 1078.5,983.7 1079.1,983.2 1079.8,983.2 1080.4,983.1 1081.1,982.2 1081.7,982.3 1082.3,982.2 1083.0,982.4 1083.6,982.0 1084.3,982.0 1084.9,981.3 1085.5,981.9 1086.2,981.8 1086.8,982.9 1087.4,982.5 1088.1,982.4 1088.7,983.5 1089.4,983.1 1090.0,983.7 1090.6,984.8 1091.3,984.3 1091.9,985.1 1092.6,985.1 1093.2,985.6 1093.8,985.2 1094.5,986.0 1095.1,986.3 1095.7,986.9 1096.4,986.9 1097.0,987.5 1097.7,987.7 1098.3,987.7 1098.9,988.3 1099.6,987.6 1100.2,988.0 1100.9,988.6 1101.5,989.0 1102.1,988.2 1102.8,988.4 1103.4,989.6 1104.0,988.4 1104.7,988.2 1105.3,989.2 1106.0,988.9 1106.6,988.4 1107.2,988.6 1107.9,989.4 1108.5,988.9 1109.1,988.8 1109.8,988.5 1110.4,988.2 1111.1,989.2 1111.7,989.4 1112.3,987.9 1113.0,988.1 1113.6,988.9 1114.3,989.1 1114.9,987.2 1115.5,987.9 1116.2,987.2 1116.8,987.3 1117.4,987.8 1118.1,987.3 1118.7,987.6 1119.4,988.4 1120.0,987.3 1120.6,987.5 1121.3,988.0 1121.9,988.0 1122.6,986.9 1123.2,987.0 1123.8,987.2 1124.5,988.3 1125.1,988.2 1125.7,988.5 1126.4,987.3 1127.0,988.3 1127.7,988.9 1128.3,989.1 1128.9,989.3 1129.6,988.5 1130.2,988.1 1130.9,989.5 1131.5,989.5 1132.1,989.5 1132.8,988.4 1133.4,988.2 1134.0,988.4 1134.7,988.4 1135.3,988.3 1136.0,988.7 1136.6,987.8 1137.2,987.3 1137.9,988.3 1138.5,987.3 1139.1,987.7 1139.8,985.8 1140.4,987.0 1141.1,986.2 1141.7,986.2 1142.3,984.7 1143.0,984.7 1143.6,985.9 1144.3,985.2 1144.9,985.7 1145.5,984.1 1146.2,985.7 1146.8,984.3 1147.4,984.4 1148.1,984.9 1148.7,984.8 1149.4,984.8 1150.0,985.4 1150.6,985.1 1151.3,984.6 1151.9,983.6 1152.6,983.9 1153.2,984.5 1153.8,983.7 1154.5,984.7 1155.1,984.9 1155.7,985.0 1156.4,984.7 1157.0,984.2 1157.7,984.9 1158.3,984.1 1158.9,985.3 1159.6,985.2 1160.2,984.4 1160.9,984.5 1161.5,985.7 1162.1,984.9 1162.8,986.2 1163.4,985.6 1164.0,987.2 1164.7,987.3 1165.3,986.5 1166.0,986.6 1166.6,987.2 1167.2,987.0 1167.9,987.6 1168.5,987.3 1169.1,986.2 1169.8,986.4 1170.4,985.4 1171.1,985.2 1171.7,984.7 1172.3,984.7 1173.0,984.0 1173.6,983.9 1174.3,983.9 1174.9,983.1 1175.5,984.2 1176.2,984.8 1176.8,985.6 1177.4,985.1 1178.1,985.0 1178.7,985.3 1179.4,986.8 1180.0,986.3 1180.6,986.5 1181.3,987.4 1181.9,986.6 1182.6,985.0 1183.2,985.0 1183.8,985.1 1184.5,984.8 1185.1,982.8 1185.7,983.1 1186.4,982.3 1187.0,981.3 1187.7,981.9 1188.3,982.5 1188.9,982.5 1189.6,982.0 1190.2,982.8 1190.9,983.1 1191.5,983.4 1192.1,984.2 1192.8,985.1 1193.4,985.4 1194.0,985.6 1194.7,985.7 1195.3,986.7 1196.0,987.0 1196.6,986.6 1197.2,986.0 1197.9,985.6 1198.5,985.0 1199.1,984.5 1199.8,984.0 1200.4,983.4 1201.1,983.0 1201.7,982.3 1202.3,981.5 1203.0,981.3 1203.6,981.4 1204.3,981.7 1204.9,981.1 1205.5,981.7 1206.2,981.2 1206.8,981.3 1207.4,982.8 1208.1,982.5 1208.7,984.3 1209.4,984.0 1210.0,984.6 1210.6,985.6 1211.3,985.0 1211.9,985.9 1212.6,987.0 1213.2,986.4 1213.8,988.3 1214.5,987.8 1215.1,987.7 1215.7,987.5 1216.4,986.9 1217.0,987.4 1217.7,985.7 1218.3,986.3 1218.9,985.7 1219.6,983.7 1220.2,984.5 1220.9,983.7 1221.5,982.6 1222.1,982.2 1222.8,982.5 1223.4,983.4 1224.0,981.8 1224.7,982.9 1225.3,983.8 1226.0,982.1 1226.6,984.0 1227.2,983.5 1227.9,983.1 1228.5,983.3 1229.1,983.2 1229.8,983.4 1230.4,984.7 1231.1,985.1 1231.7,983.7 1232.3,984.4 1233.0,983.0 1233.6,981.0 1234.3,980.8 1234.9,980.0 1235.5,979.0 1236.2,977.2 1236.8,976.8 1237.4,976.6 1238.1,976.9 1238.7,977.5 1239.4,978.4 1240.0,978.9 1240.6,977.7 1241.3,979.9 1241.9,981.2 1242.6,984.3 1243.2,988.0 1243.8,989.4 1244.5,993.6 1245.1,994.0 1245.7,995.8 1246.4,996.3 1247.0,996.8 1247.7,997.0 1248.3,997.6 1248.9,997.9 1249.6,998.5 1250.2,999.8 1250.9,999.1 1251.5,998.2 1252.1,997.8 1252.8,996.1 1253.4,992.7 1254.0,990.9 1254.7,987.8 1255.3,986.2 1256.0,986.8 1256.6,986.7 1257.2,986.3 1257.9,985.5 1258.5,985.7 1259.1,986.9 1259.8,987.3 1260.4,988.3 1261.1,988.1 1261.7,988.1 1262.3,987.7 1263.0,989.5 1263.6,990.0 1264.3,990.2 1264.9,990.6 1265.5,990.3 1266.2,989.9 1266.8,988.9 1267.4,988.5 1268.1,989.8 1268.7,987.9 1269.4,987.1 1270.0,988.7 1270.6,987.2 1271.3,987.0 1271.9,985.8 1272.6,986.8 1273.2,987.4 1273.8,986.8 1274.5,988.9 1275.1,988.9 1275.7,989.2 1276.4,990.8 1277.0,991.5 1277.7,993.0 1278.3,993.3 1278.9,994.5 1279.6,994.7 1280.2,994.6 1280.9,993.4 1281.5,994.8 1282.1,994.8 1282.8,991.6 1283.4,990.4 1284.0,989.3 1284.7,989.5 1285.3,987.1 1286.0,985.0 1286.6,985.9 1287.2,984.4 1287.9,981.8 1288.5,983.0 1289.1,982.4 1289.8,982.9 1290.4,982.9 1291.1,983.4 1291.7,984.3 1292.3,986.4 1293.0,987.1 1293.6,986.3 1294.3,987.1 1294.9,987.8 1295.5,986.4 1296.2,986.7 1296.8,986.5 1297.4,988.1 1298.1,986.5 1298.7,988.6 1299.4,984.5 1300.0,983.9 1300.6,985.6 1301.3,987.2 1301.9,985.5 1302.6,985.1 1303.2,987.0 1303.8,985.9 1304.5,988.2 1305.1,988.6 1305.7,989.6 1306.4,988.3 1307.0,986.8 1307.7,989.3 1308.3,988.4 1308.9,986.4 1309.6,987.1 1310.2,986.9 1310.9,982.8 1311.5,985.7 1312.1,982.8 1312.8,984.0 1313.4,983.5 1314.0,980.5 1314.7,980.9 1315.3,982.7 1316.0,984.7 1316.6,984.3 1317.2,984.7 1317.9,982.3 1318.5,984.4 1319.1,985.2 1319.8,982.4 1320.4,987.0 1321.1,984.3 1321.7,985.0 1322.3,982.9 1323.0,987.1 1323.6,986.8 1324.3,985.8 1324.9,985.3 1325.5,981.3 1326.2,983.0 1326.8,983.2 1327.4,983.5 1328.1,982.8 1328.7,979.8 1329.4,980.0 1330.0,977.6 1330.6,974.9 1331.3,973.9 1331.9,974.4 1332.6,972.1 1333.2,972.8 1333.8,970.6 1334.5,969.4 1335.1,970.1 1335.7,969.5 1336.4,971.4 1337.0,971.9 1337.7,968.6 1338.3,968.1 1338.9,969.0 1339.6,970.8 1340.2,967.3 1340.9,968.1 1341.5,968.3 1342.1,967.1 1342.8,966.7 1343.4,964.2 1344.0,963.4 1344.7,962.4 1345.3,959.7 1346.0,960.6 1346.6,960.2 1347.2,960.5 1347.9,964.4 1348.5,964.8 1349.1,965.8 1349.8,966.1 1350.4,967.5 1351.1,968.7 1351.7,968.1 1352.3,970.9 1353.0,967.4 1353.6,967.7 1354.3,968.3 1354.9,967.2 1355.5,962.8 1356.2,962.1 1356.8,958.2 1357.4,954.9 1358.1,955.9 1358.7,952.6 1359.4,951.6 1360.0,951.6 1360.6,953.9 1361.3,955.6 1361.9,957.0 1362.6,957.7 1363.2,958.0 1363.8,957.1 1364.5,961.1 1365.1,956.9 1365.7,960.3 1366.4,956.5 1367.0,956.1 1367.7,952.4 1368.3,951.4 1368.9,952.5 1369.6,948.7 1370.2,949.8 1370.9,947.6 1371.5,945.5 1372.1,946.7 1372.8,948.7 1373.4,947.8 1374.0,945.9 1374.7,946.1 1375.3,946.6 1376.0,946.8 1376.6,945.0 1377.2,946.4 1377.9,946.6 1378.5,943.4 1379.1,946.5 1379.8,944.0 1380.4,944.2 1381.1,947.2 1381.7,943.4 1382.3,947.7 1383.0,944.7 1383.6,945.2 1384.3,949.2 1384.9,948.0 1385.5,952.1 1386.2,952.7 1386.8,954.4 1387.4,951.5 1388.1,953.5 1388.7,955.7 1389.4,955.5 1390.0,957.8 1390.6,960.6 1391.3,960.0 1391.9,960.8 1392.6,958.9 1393.2,961.4 1393.8,963.4 1394.5,963.1 1395.1,961.8 1395.7,962.6 1396.4,963.4 1397.0,961.2 1397.7,962.4 1398.3,961.3 1398.9,960.5 1399.6,961.2 1400.2,961.0 1400.9,961.1 1401.5,961.1 1402.1,963.0 1402.8,965.2 1403.4,965.7 1404.0,961.3 1404.7,962.0 1405.3,964.1 1406.0,962.3 1406.6,965.9 1407.2,967.0 1407.9,966.5 1408.5,965.1 1409.1,968.1 1409.8,968.0 1410.4,966.6 1411.1,968.1 1411.7,968.4 1412.3,965.9 1413.0,967.6 1413.6,966.0 1414.3,970.2 1414.9,968.4 1415.5,966.3 1416.2,969.4 1416.8,968.0 1417.4,968.6 1418.1,970.4 1418.7,968.4 1419.4,969.9 1420.0,973.5 1420.6,971.7 1421.3,972.5 1421.9,974.3 1422.6,972.9 1423.2,975.4 1423.8,972.6 1424.5,974.7 1425.1,975.3 1425.7,978.4 1426.4,977.8 1427.0,977.9 1427.7,981.8 1428.3,981.5 1428.9,981.6 1429.6,982.9 1430.2,985.2 1430.9,989.8 1431.5,988.2 1432.1,992.7 1432.8,996.5 1433.4,994.0 1434.0,998.2 1434.7,998.5 1435.3,1001.5 1436.0,1000.3 1436.6,1002.6 1437.2,1007.7 1437.9,1004.7 1438.5,1009.3 1439.1,1008.0 1439.8,1006.9 1440.4,1005.0 1441.1,1002.6 1441.7,1000.7 1442.3,1003.3 1443.0,1000.3 1443.6,998.5 1444.3,996.1 1444.9,998.3 1445.5,996.9 1446.2,995.0 1446.8,996.1 1447.4,992.0 1448.1,992.8 1448.7,991.4 1449.4,992.4 1450.0,992.1 1450.6,991.4 1451.3,991.8 1451.9,987.8 1452.6,986.4 1453.2,987.8 1453.8,989.8 1454.5,987.7 1455.1,987.8 1455.7,987.8 1456.4,986.6 1457.0,985.7 1457.7,981.5 1458.3,981.4 1458.9,984.0 1459.6,982.5 1460.2,980.6 1460.9,980.6 1461.5,980.4 1462.1,979.5 1462.8,984.2 1463.4,979.6 1464.0,983.6 1464.7,982.3 1465.3,983.6 1466.0,984.5 1466.6,986.1 1467.2,982.8 1467.9,987.5 1468.5,983.7 1469.1,987.3 1469.8,989.2 1470.4,989.5 1471.1,988.5 1471.7,988.3 1472.3,992.3 1473.0,993.2 1473.6,989.0 1474.3,992.5 1474.9,992.1 1475.5,989.6 1476.2,991.6 1476.8,993.9 1477.4,996.2 1478.1,992.8 1478.7,993.8 1479.4,996.3 1480.0,992.7 1480.6,993.4 1481.3,994.4 1481.9,991.9 1482.6,996.2 1483.2,994.3 1483.8,993.1 1484.5,993.5 1485.1,988.4 1485.7,987.4 1486.4,988.3 1487.0,985.9 1487.7,985.2 1488.3,985.9 1488.9,983.0 1489.6,980.5 1490.2,980.9 1490.9,979.2 1491.5,981.4 1492.1,981.4 1492.8,979.7 1493.4,980.9 1494.0,980.2 1494.7,977.2 1495.3,976.4 1496.0,978.1 1496.6,978.5 1497.2,983.4 1497.9,978.9 1498.5,982.3 1499.1,982.2 1499.8,982.9 1500.4,984.2 1501.1,982.6 1501.7,981.9 1502.3,982.0 1503.0,976.8 1503.6,977.1 1504.3,981.7 1504.9,978.2 1505.5,979.4 1506.2,980.0 1506.8,982.6 1507.4,986.6 1508.1,988.9 1508.7,989.4 1509.4,989.8 1510.0,988.4 1510.6,992.5 1511.3,990.1 1511.9,984.7 1512.6,986.7 1513.2,979.4 1513.8,980.3 1514.5,979.6 1515.1,976.9 1515.7,976.8 1516.4,974.4 1517.0,974.2 1517.7,976.5 1518.3,977.2 1518.9,973.1 1519.6,973.0 1520.2,977.9 1520.9,973.8 1521.5,975.0 1522.1,978.9 1522.8,978.9 1523.4,977.2 1524.0,980.9 1524.7,982.0 1525.3,978.2 1526.0,981.8 1526.6,984.5 1527.2,983.0 1527.9,986.1 1528.5,987.4 1529.1,984.6 1529.8,986.0 1530.4,990.6 1531.1,993.6 1531.7,990.2 1532.3,994.3 1533.0,993.2 1533.6,988.6 1534.3,989.8 1534.9,989.4 1535.5,987.0 1536.2,982.4 1536.8,984.3 1537.4,979.3 1538.1,982.8 1538.7,984.0 1539.4,980.6 1540.0,980.1 1540.6,980.6 1541.3,982.3 1541.9,981.2 1542.6,984.7 1543.2,982.0 1543.8,983.1 1544.5,982.9 1545.1,986.0 1545.7,986.0 1546.4,986.5 1547.0,986.9 1547.7,986.4 1548.3,982.5 1548.9,982.3 1549.6,984.3 1550.2,987.1 1550.9,988.5 1551.5,989.1 1552.1,988.5 1552.8,993.3 1553.4,997.0 1554.0,994.0 1554.7,997.6 1555.3,994.4 1556.0,997.1 1556.6,998.0 1557.2,994.1 1557.9,999.5 1558.5,995.6 1559.1,997.5 1559.8,1000.4 1560.4,1000.5 1561.1,996.3 1561.7,997.9 1562.3,997.2 1563.0,996.2 1563.6,999.5 1564.3,998.5 1564.9,997.8 1565.5,995.9 1566.2,996.2 1566.8,992.6 1567.4,994.3 1568.1,990.8 1568.7,990.4 1569.4,994.9 1570.0,989.1 1570.6,988.3 1571.3,988.4 1571.9,992.6 1572.6,992.3 1573.2,988.3 1573.8,991.1 1574.5,988.4 1575.1,989.3 1575.7,985.8 1576.4,986.7 1577.0,987.3 1577.7,987.6 1578.3,990.2 1578.9,986.7 1579.6,986.6 1580.2,988.7 1580.9,986.0 1581.5,989.8 1582.1,985.8 1582.8,985.1 1583.4,986.2 1584.0,988.3 1584.7,986.7 1585.3,989.6 1586.0,989.9 1586.6,989.3 1587.2,989.1 1587.9,991.1 1588.5,991.0 1589.1,987.0 1589.8,992.4 1590.4,991.8 1591.1,987.7 1591.7,992.7 1592.3,990.3 1593.0,992.0 1593.6,989.4 1594.3,986.9 1594.9,988.8 1595.5,983.1 1596.2,983.7 1596.8,981.6 1597.4,984.9 1598.1,978.3 1598.7,980.1 1599.4,978.3 1600.0,976.9 1600.6,976.6 1601.3,980.9 1601.9,981.9 1602.6,983.6 1603.2,984.1 1603.8,986.8 1604.5,985.1 1605.1,988.1 1605.7,991.8 1606.4,988.6 1607.0,988.2 1607.7,992.5 1608.3,992.7 1608.9,992.5 1609.6,992.0 1610.2,987.2 1610.9,991.0 1611.5,984.9 1612.1,987.2 1612.8,982.7 1613.4,983.9 1614.0,986.7 1614.7,981.6 1615.3,982.2 1616.0,985.8 1616.6,985.2 1617.2,981.6 1617.9,987.1 1618.5,983.9 1619.1,987.0 1619.8,988.2 1620.4,985.0 1621.1,988.9 1621.7,986.6 1622.3,986.4 1623.0,984.5 1623.6,988.9 1624.3,990.2 1624.9,990.1 1625.5,990.1 1626.2,985.1 1626.8,989.2 1627.4,990.4 1628.1,989.7 1628.7,990.5 1629.4,987.0 1630.0,985.9 1630.6,988.7 1631.3,986.0 1631.9,988.1 1632.6,988.1 1633.2,987.5 1633.8,986.3 1634.5,987.7 1635.1,985.5 1635.7,983.6 1636.4,988.4 1637.0,986.8 1637.7,983.8 1638.3,987.2 1638.9,982.7 1639.6,982.2 1640.2,980.6 1640.9,980.8 1641.5,982.5 1642.1,981.4 1642.8,985.0 1643.4,980.6 1644.0,981.4 1644.7,979.3 1645.3,984.2 1646.0,980.6 1646.6,985.5 1647.2,985.8 1647.9,979.9 1648.5,984.5 1649.1,984.4 1649.8,982.6 1650.4,985.9 1651.1,982.8 1651.7,985.2 1652.3,981.7 1653.0,983.0 1653.6,985.2 1654.3,986.5 1654.9,987.0 1655.5,984.8 1656.2,987.4 1656.8,985.0 1657.4,984.7 1658.1,985.0 1658.7,980.7 1659.4,986.0 1660.0,982.3 1660.6,982.1 1661.3,980.0 1661.9,979.3 1662.6,978.4 1663.2,981.3 1663.8,977.2 1664.5,978.2 1665.1,977.9 1665.7,980.2 1666.4,980.7 1667.0,975.0 1667.7,977.5 1668.3,976.1 1668.9,975.0 1669.6,979.9 1670.2,976.5 1670.9,977.9 1671.5,980.0 1672.1,977.8 1672.8,976.4 1673.4,979.9 1674.0,980.0 1674.7,978.8 1675.3,981.1 1676.0,983.8 1676.6,981.7 1677.2,979.5 1677.9,984.9 1678.5,983.9 1679.1,983.3 1679.8,989.6 1680.4,985.5 1681.1,986.7 1681.7,988.0 1682.3,990.5 1683.0,989.8 1683.6,993.3 1684.3,994.0 1684.9,993.0 1685.5,990.2 1686.2,992.6 1686.8,988.3 1687.4,988.5 1688.1,990.1 1688.7,987.5 1689.4,984.5 1690.0,983.2 1690.6,982.1 1691.3,982.2 1691.9,984.0 1692.6,984.0 1693.2,981.5 1693.8,980.0 1694.5,979.4 1695.1,981.8 1695.7,980.9 1696.4,978.0 1697.0,977.0 1697.7,980.1 1698.3,980.2 1698.9,977.7 1699.6,979.5 1700.2,980.3 1700.9,978.1 1701.5,979.2 1702.1,980.1 1702.8,977.6 1703.4,975.6 1704.0,979.2 1704.7,976.3 1705.3,977.5 1706.0,979.3 1706.6,975.5 1707.2,976.9 1707.9,976.6 1708.5,977.6 1709.1,975.5 1709.8,976.6 1710.4,977.5 1711.1,977.0 1711.7,981.0 1712.3,979.0 1713.0,982.6 1713.6,979.8 1714.3,979.9 1714.9,982.6 1715.5,980.8 1716.2,980.5 1716.8,981.3 1717.4,982.2 1718.1,983.5 1718.7,984.0 1719.4,982.8 1720.0,981.6 1720.6,982.6 1721.3,982.4 1721.9,979.9 1722.6,981.9 1723.2,981.8 1723.8,981.4 1724.5,982.4 1725.1,979.7 1725.7,982.0 1726.4,979.6 1727.0,981.7 1727.7,979.7 1728.3,981.1 1728.9,980.6 1729.6,978.9 1730.2,980.6 1730.9,979.4 1731.5,980.8 1732.1,980.4 1732.8,981.9 1733.4,980.1 1734.0,982.3 1734.7,981.6 1735.3,982.2 1736.0,983.1 1736.6,982.1 1737.2,983.3 1737.9,982.7 1738.5,982.8 1739.1,984.7 1739.8,983.3 1740.4,983.5 1741.1,984.4 1741.7,983.8 1742.3,981.8 1743.0,982.5 1743.6,981.4 1744.3,978.6 1744.9,978.4 1745.5,976.7 1746.2,976.8 1746.8,977.9 1747.4,976.8 1748.1,978.4 1748.7,976.4 1749.4,977.2 1750.0,976.0 1750.6,977.6 1751.3,978.6 1751.9,979.9 1752.6,979.8 1753.2,980.5 1753.8,979.4 1754.5,979.7 1755.1,980.2 1755.7,981.5 1756.4,980.8 1757.0,982.6 1757.7,980.6 1758.3,982.1 1758.9,982.1 1759.6,981.0 1760.2,981.5 1760.9,980.5 1761.5,978.2 1762.1,977.7 1762.8,978.7 1763.4,977.3 1764.0,975.8 1764.7,975.1 1765.3,975.7 1766.0,975.2 1766.6,976.1 1767.2,975.5 1767.9,976.4 1768.5,974.8 1769.1,976.8 1769.8,975.2 1770.4,977.9 1771.1,975.6 1771.7,976.9 1772.3,977.6 1773.0,977.6 1773.6,978.6 1774.3,977.3 1774.9,979.3 1775.5,979.8 1776.2,978.5 1776.8,978.1 1777.4,980.9 1778.1,978.8 1778.7,979.6 1779.4,980.7 1780.0,980.0 1780.6,980.0 1781.3,979.9 1781.9,981.5 1782.6,982.3 1783.2,980.6 1783.8,982.7 1784.5,980.7 1785.1,983.0 1785.7,982.3 1786.4,982.8 1787.0,982.0 1787.7,981.7 1788.3,982.7 1788.9,980.5 1789.6,982.4 1790.2,980.3 1790.9,981.2 1791.5,980.0 1792.1,980.6 1792.8,980.1 1793.4,981.2 1794.0,980.1 1794.7,981.4 1795.3,979.5 1796.0,980.1 1796.6,980.6 1797.2,980.4 1797.9,981.3 1798.5,980.9 1799.1,981.1 1799.8,981.1 1800.4,981.0 1801.1,981.2 1801.7,981.0 1802.3,980.8 1803.0,980.5 1803.6,981.4 1804.3,981.4 1804.9,980.1 1805.5,980.8 1806.2,979.4 1806.8,980.5 1807.4,979.4 1808.1,978.8 1808.7,979.6 1809.4,979.0 1810.0,978.1 1810.6,978.8 1811.3,977.9 1811.9,978.3 1812.6,977.5 1813.2,977.5 1813.8,978.5 1814.5,978.8 1815.1,979.0 1815.7,979.2 1816.4,978.7 1817.0,979.3 1817.7,978.9 1818.3,979.6 1818.9,979.3 1819.6,979.0 1820.2,979.2 1820.9,979.3 1821.5,978.8 1822.1,978.5 1822.8,977.7 1823.4,977.8 1824.0,977.4 1824.7,976.7 1825.3,975.9 1826.0,975.7"/>
<path stroke="#0000ff" stroke-linejoin="round" stroke-linecap="round" d="M258.5,0.0 259.4,17.8 260.2,37.3 261.1,59.5 261.9,85.1 262.8,113.3 263.6,142.8 264.5,172.5 265.3,201.3 266.2,227.9 267.0,251.6 267.9,274.0 268.7,295.6 269.6,316.4 270.4,336.6 271.3,356.3 272.1,375.4 273.0,394.2 273.8,412.7 274.7,430.9 275.5,449.1 276.4,467.2 277.2,485.2 278.1,503.0 278.9,520.7 279.8,538.0 280.6,554.9 281.5,571.4 282.3,587.4 283.2,602.8 284.0,617.6 284.9,631.6 285.7,644.9 286.6,657.3 287.4,669.1 288.3,680.4 289.1,691.2 290.0,701.8 290.9,712.2 291.7,722.7 292.6,733.3 293.4,744.1 294.3,755.7 295.1,767.6 296.0,779.8 296.8,791.8 297.7,803.4 298.5,814.3 299.4,824.3 300.2,833.0 301.1,840.1 301.9,845.7 302.8,850.4 303.6,854.8 304.5,859.3 305.3,864.2 306.2,869.2 307.0,874.1 307.9,879.0 308.7,883.7 309.6,888.0 310.4,892.3 311.3,896.5 312.1,900.5 313.0,904.3 313.8,907.6 314.7,910.3 315.5,912.6 316.4,914.8 317.2,916.7 318.1,918.5 318.9,920.1 319.8,921.6 320.6,923.0 321.5,924.2 322.3,925.4 323.2,926.5 324.0,927.5 324.9,928.5 325.7,929.4 326.6,930.4 327.4,931.4 328.3,932.5 329.1,933.7 330.0,935.0 330.9,936.3 331.7,937.6 332.6,938.9 333.4,940.0 334.3,941.1 335.1,942.1 336.0,943.0 336.8,943.8 337.7,944.5 338.5,945.3 339.4,946.0 340.2,946.7 341.1,947.3 341.9,948.0 342.8,948.6 343.6,949.2 344.5,949.9 345.3,950.5 346.2,951.2 347.0,951.8 347.9,952.4 348.7,953.0 349.6,953.5 350.4,954.0 351.3,954.4 352.1,954.7 353.0,955.0 353.8,955.3 354.7,955.6 355.5,955.8 356.4,956.0 357.2,956.1 358.1,956.2 358.9,956.2 359.8,956.1 360.6,956.0 361.5,955.8 362.3,955.5 363.2,955.2 364.0,954.9 364.9,954.6 365.7,954.3 366.6,954.0 367.4,953.7 368.3,953.5 369.1,953.3 370.0,953.1 370.9,952.9 371.7,952.7 372.6,952.4 373.4,952.2 374.3,951.9 375.1,951.6 376.0,951.3 376.8,950.7 377.7,950.0 378.5,949.3 379.4,948.7 380.2,948.3 381.1,948.3 381.9,948.8 382.8,949.5 383.6,950.2 384.5,951.0 385.3,951.4 386.2,951.4 387.0,951.4 387.9,951.2 388.7,951.1 389.6,950.8 390.4,950.6 391.3,950.3 392.1,950.0 393.0,949.6 393.8,949.1 394.7,948.4 395.5,947.6 396.4,946.8 397.2,945.9 398.1,945.2 398.9,944.5 399.8,944.0 400.6,943.4 401.5,942.9 402.3,942.4 403.2,942.1 404.0,941.9 404.9,941.9 405.7,942.0 406.6,942.3 407.4,942.6 408.3,943.0 409.1,943.5 410.0,944.1 410.9,944.9 411.7,946.4 412.6,948.4 413.4,950.7 414.3,953.4 415.1,957.2 416.0,961.0 416.8,963.7 417.7,964.9 418.5,965.8 419.4,966.6 420.2,967.2 421.1,967.7 421.9,968.2 422.8,968.6 423.6,969.1 424.5,969.6 425.3,970.2 426.2,970.8 427.0,971.3 427.9,971.9 428.7,972.4 429.6,972.9 430.4,973.5 431.3,974.0 432.1,974.6 433.0,975.2 433.8,975.8 434.7,976.5 435.5,977.2 436.4,978.0 437.2,978.7 438.1,979.4 438.9,980.1 439.8,980.7 440.6,981.2 441.5,981.6 442.3,982.0 443.2,982.3 444.0,982.5 444.9,982.8 445.7,983.0 446.6,983.2 447.4,983.4 448.3,983.6 449.1,983.8 450.0,984.1 450.9,984.3 451.7,984.5 452.6,984.8 453.4,985.1 454.3,985.3 455.1,985.6 456.0,985.8 456.8,986.0 457.7,986.2 458.5,986.3 459.4,986.4 460.2,986.5 461.1,986.3 461.9,986.0 462.8,985.5 463.6,984.8 464.5,984.1 465.3,983.5 466.2,982.9 467.0,982.5 467.9,982.2 468.7,981.9 469.6,981.7 470.4,981.5 471.3,981.3 472.1,981.2 473.0,981.0 473.8,980.7 474.7,980.4 475.5,980.1 476.4,979.6 477.2,979.1 478.1,978.4 478.9,977.7 479.8,976.8 480.6,975.8 481.5,974.8 482.3,973.6 483.2,972.2 484.0,970.5 484.9,968.4 485.7,966.0 486.6,963.4 487.4,960.7 488.3,957.4 489.1,953.7 490.0,949.4 490.9,944.8 491.7,939.9 492.6,934.8 493.4,929.1 494.3,922.7 495.1,915.9 496.0,909.2 496.8,902.6 497.7,895.9 498.5,889.0 499.4,882.2 500.2,876.1 501.1,870.9 501.9,866.2 502.8,861.8 503.6,857.8 504.5,854.6 505.3,852.3 506.2,850.3 507.0,848.6 507.9,847.5 508.7,847.2 509.6,847.9 510.4,849.5 511.3,851.6 512.1,854.0 513.0,856.7 513.8,860.4 514.7,865.1 515.5,870.5 516.4,876.1 517.2,881.3 518.1,886.5 518.9,891.9 519.8,897.4 520.6,902.8 521.5,908.1 522.3,913.2 523.2,918.3 524.0,923.3 524.9,928.1 525.7,932.7 526.6,937.0 527.4,941.3 528.3,945.5 529.1,949.5 530.0,953.2 530.9,956.2 531.7,958.6 532.6,960.8 533.4,962.7 534.3,964.4 535.1,965.9 536.0,966.9 536.8,967.6 537.7,968.2 538.5,968.6 539.4,968.9 540.2,968.9 541.1,968.7 541.9,968.3 542.8,967.7 543.6,967.0 544.5,966.2 545.3,965.4 546.2,964.2 547.0,962.7 547.9,960.9 548.7,958.9 549.6,956.8 550.4,954.6 551.3,952.5 552.1,950.4 553.0,948.2 553.8,946.0 554.7,943.6 555.5,941.2 556.4,938.7 557.2,936.1 558.1,933.5 558.9,931.0 559.8,928.3 560.6,925.6 561.5,922.8 562.3,920.0 563.2,917.2 564.0,914.3 564.9,911.3 565.7,908.3 566.6,905.3 567.4,902.3 568.3,899.2 569.1,896.0 570.0,892.8 570.9,889.4 571.7,886.0 572.6,882.5 573.4,879.1 574.3,875.8 575.1,872.1 576.0,867.9 576.8,862.8 577.7,855.8 578.5,845.2 579.4,833.3 580.2,822.5 581.1,814.0 581.9,805.9 582.8,796.2 583.6,781.9 584.5,762.3 585.3,744.0 586.2,725.6 587.0,707.3 587.9,689.0 588.7,670.9 589.6,652.1 590.4,633.2 591.3,614.8 592.1,597.4 593.0,581.8 593.8,567.9 594.7,555.1 595.5,543.2 596.4,531.9 597.2,521.3 598.1,510.9 598.9,500.7 599.8,491.3 600.6,483.3 601.5,476.9 602.3,470.7 603.2,466.6 604.0,466.5 604.9,470.0 605.7,475.6 606.6,481.5 607.4,488.9 608.3,498.0 609.1,508.2 610.0,518.7 610.9,529.5 611.7,541.1 612.6,553.5 613.4,566.5 614.3,580.0 615.1,594.3 616.0,609.5 616.8,625.4 617.7,641.7 618.5,658.0 619.4,674.1 620.2,689.8 621.1,705.4 621.9,721.1 622.8,736.7 623.6,752.4 624.5,768.2 625.3,784.1 626.2,801.7 627.0,818.4 627.9,830.2 628.7,838.6 629.6,845.6 630.4,851.6 631.3,857.2 632.1,862.8 633.0,868.0 633.8,872.9 634.7,877.5 635.5,882.0 636.4,886.4 637.2,890.7 638.1,895.1 638.9,899.5 639.8,903.8 640.6,908.1 641.5,912.2 642.3,916.2 643.2,919.9 644.0,923.3 644.9,926.5 645.7,929.6 646.6,932.5 647.4,935.3 648.3,937.8 649.1,940.1 650.0,942.0 650.9,943.8 651.7,945.6 652.6,947.3 653.4,948.5 654.3,949.1 655.1,949.1 656.0,948.3 656.8,947.1 657.7,945.6 658.5,944.0 659.4,942.4 660.2,940.7 661.1,938.7 661.9,936.6 662.8,934.5 663.6,932.5 664.5,930.5 665.3,928.5 666.2,926.5 667.0,924.7 667.9,923.3 668.7,922.1 669.6,921.1 670.4,920.3 671.3,920.1 672.1,920.9 673.0,922.3 673.8,923.8 674.7,925.2 675.5,926.5 676.4,928.1 677.2,930.0 678.1,932.3 678.9,936.4 679.8,941.7 680.6,946.4 681.5,950.3 682.1,953.1 682.8,955.8 683.4,958.4 684.0,960.9 684.7,963.5 685.3,966.2 686.0,968.8 686.6,971.4 687.2,973.7 687.9,976.0 688.5,977.8 689.1,979.4 689.8,980.9 690.4,982.3 691.1,983.6 691.7,984.7 692.3,985.7 693.0,986.6 693.6,987.4 694.3,988.2 694.9,988.8 695.5,989.5 696.2,990.1 696.8,990.6 697.4,991.1 698.1,991.7 698.7,992.1 699.4,992.6 700.0,993.0 700.6,993.5 701.3,993.8 701.9,994.2 702.6,994.6 703.2,995.0 703.8,995.3 704.5,995.6 705.1,995.9 705.7,996.1 706.4,996.5 707.0,996.6 707.7,997.0 708.3,997.4 708.9,997.6 709.6,997.7 710.2,998.0 710.9,998.3 711.5,998.4 712.1,998.7 712.8,998.8 713.4,999.2 714.0,999.3 714.7,999.4 715.3,999.5 716.0,999.6 716.6,999.9 717.2,1000.0 717.9,1000.0 718.5,1000.1 719.1,1000.3 719.8,1000.6 720.4,1000.4 721.1,1000.8 721.7,1000.8 722.3,1000.7 723.0,1000.9 723.6,1000.9 724.3,1000.9 724.9,1001.3 725.5,1001.3 726.2,1001.3 726.8,1001.3 727.4,1001.3 728.1,1001.5 728.7,1001.5 729.4,1001.5 730.0,1001.6 730.6,1001.3 731.3,1001.4 731.9,1001.8 732.6,1001.6 733.2,1001.7 733.8,1001.6 734.5,1001.5 735.1,1001.8 735.7,1001.8 736.4,1001.9 737.0,1001.9 737.7,1002.0 738.3,1002.4 738.9,1002.4 739.6,1002.8 740.2,1003.0 740.9,1003.2 741.5,1003.1 742.1,1003.3 742.8,1003.1 743.4,1003.5 744.0,1003.2 744.7,1003.2 745.3,1003.1 746.0,1003.7 746.6,1003.2 747.2,1003.1 747.9,1003.6 748.5,1003.5 749.1,1003.2 749.8,1003.3 750.4,1003.0 751.1,1003.5 751.7,1003.5 752.3,1003.3 753.0,1003.0 753.6,1003.3 754.3,1003.2 754.9,1003.0 755.5,1002.9 756.2,1003.1 756.8,1003.0 757.4,1003.2 758.1,1003.0 758.7,1003.0 759.4,1003.2 760.0,1002.8 760.6,1002.8 761.3,1002.8 761.9,1002.8 762.6,1002.9 763.2,1002.7 763.8,1002.9 764.5,1003.1 765.1,1002.9 765.7,1003.0 766.4,1003.5 767.0,1003.2 767.7,1003.0 768.3,1003.6 768.9,1003.2 769.6,1003.4 770.2,1003.3 770.9,1003.5 771.5,1003.7 772.1,1003.4 772.8,1003.5 773.4,1003.5 774.0,1003.8 774.7,1003.5 775.3,1004.0 776.0,1003.5 776.6,1003.6 777.2,1003.5 777.9,1003.9 778.5,1004.0 779.1,1003.6 779.8,1003.6 780.4,1003.8 781.1,1003.5 781.7,1003.2 782.3,1002.9 783.0,1002.9 783.6,1002.7 784.3,1002.4 784.9,1002.0 785.5,1001.7 786.2,1001.7 786.8,1001.2 787.4,1000.8 788.1,1000.6 788.7,1000.4 789.4,1000.3 790.0,1000.8 790.6,1000.2 791.3,1000.7 791.9,1000.9 792.6,1001.0 793.2,1001.0 793.8,1001.3 794.5,1002.1 795.1,1002.3 795.7,1002.7 796.4,1003.2 797.0,1003.7 797.7,1004.4 798.3,1004.7 798.9,1004.6 799.6,1004.8 800.2,1004.4 800.9,1004.2 801.5,1004.2 802.1,1003.8 802.8,1003.1 803.4,1002.8 804.0,1002.5 804.7,1001.8 805.3,1001.6 806.0,1001.5 806.6,1001.0 807.2,1001.0 807.9,1000.9 808.5,1000.9 809.1,1001.4 809.8,1001.3 810.4,1001.7 811.1,1002.2 811.7,1002.5 812.3,1002.6 813.0,1002.8 813.6,1003.1 814.3,1003.8 814.9,1003.6 815.5,1004.0 816.2,1003.7 816.8,1003.9 817.4,1003.7 818.1,1004.0 818.7,1004.0 819.4,1003.7 820.0,1003.3 820.6,1003.2 821.3,1003.5 821.9,1003.3 822.6,1002.8 823.2,1002.9 823.8,1002.3 824.5,1002.5 825.1,1002.2 825.7,1002.0 826.4,1002.1 827.0,1002.0 827.7,1002.0 828.3,1001.7 828.9,1001.6 829.6,1001.8 830.2,1002.0 830.9,1001.7 831.5,1002.3 832.1,1002.3 832.8,1002.3 833.4,1002.4 834.0,1002.6 834.7,1002.3 835.3,1002.8 836.0,1002.5 836.6,1002.8 837.2,1002.9 837.9,1003.0 838.5,1003.5 839.1,1003.5 839.8,1003.4 840.4,1003.6 841.1,1003.4 841.7,1003.6 842.3,1003.2 843.0,1003.3 843.6,1003.3 844.3,1003.1 844.9,1003.0 845.5,1003.2 846.2,1002.9 846.8,1002.6 847.4,1002.9 848.1,1002.8 848.7,1002.8 849.4,1002.6 850.0,1002.2 850.6,1002.1 851.3,1002.2 851.9,1001.6 852.6,1001.3 853.2,1001.4 853.8,1001.1 854.5,1001.3 855.1,1000.7 855.7,1000.6 856.4,1000.6 857.0,1000.6 857.7,1000.2 858.3,1000.3 858.9,1000.4 859.6,999.9 860.2,999.5 860.9,999.9 861.5,999.4 862.1,999.5 862.8,999.2 863.4,999.2 864.0,999.2 864.7,998.8 865.3,998.7 866.0,998.4 866.6,998.4 867.2,998.3 867.9,998.3 868.5,998.1 869.1,998.1 869.8,998.0 870.4,997.5 871.1,997.6 871.7,997.6 872.3,997.5 873.0,996.7 873.6,997.0 874.3,996.6 874.9,996.1 875.5,996.4 876.2,996.0 876.8,995.7 877.4,995.0 878.1,994.7 878.7,994.3 879.4,994.0 880.0,993.4 880.6,993.4 881.3,993.3 881.9,993.0 882.6,992.3 883.2,992.0 883.8,992.3 884.5,992.1 885.1,992.4 885.7,992.4 886.4,992.5 887.0,992.1 887.7,992.5 888.3,992.5 888.9,992.6 889.6,992.6 890.2,992.1 890.9,992.3 891.5,992.3 892.1,992.3 892.8,992.6 893.4,992.3 894.0,992.0 894.7,991.7 895.3,992.0 896.0,991.3 896.6,991.5 897.2,991.2 897.9,990.5 898.5,990.5 899.1,990.3 899.8,989.7 900.4,989.3 901.1,989.3 901.7,988.8 902.3,988.5 903.0,988.3 903.6,987.6 904.3,987.2 904.9,987.1 905.5,986.6 906.2,986.6 906.8,986.0 907.4,986.3 908.1,985.7 908.7,985.2 909.4,984.9 910.0,984.4 910.6,984.0 911.3,983.6 911.9,983.4 912.6,983.3 913.2,983.0 913.8,982.6 914.5,982.0 915.1,982.0 915.7,981.6 916.4,981.4 917.0,980.8 917.7,980.2 918.3,980.1 918.9,979.8 919.6,979.3 920.2,979.2 920.9,979.0 921.5,978.0 922.1,978.1 922.8,977.8 923.4,977.0 924.0,976.4 924.7,976.0 925.3,975.3 926.0,975.1 926.6,974.7 927.2,974.2 927.9,973.4 928.5,972.6 929.1,971.7 929.8,971.4 930.4,970.4 931.1,969.7 931.7,968.9 932.3,968.1 933.0,967.2 933.6,966.5 934.3,965.2 934.9,964.3 935.5,963.3 936.2,961.9 936.8,960.0 937.4,958.1 938.1,956.0 938.7,954.3 939.4,951.7 940.0,949.3 940.6,946.2 941.3,942.9 941.9,940.5 942.6,937.3 943.2,933.8 943.8,931.2 944.5,928.4 945.1,925.3 945.7,922.9 946.4,920.2 947.0,917.7 947.7,915.7 948.3,913.3 948.9,910.8 949.6,908.6 950.2,906.6 950.9,904.6 951.5,902.4 952.1,899.4 952.8,897.0 953.4,894.9 954.0,892.2 954.7,889.7 955.3,886.9 956.0,883.5 956.6,880.3 957.2,876.6 957.9,873.5 958.5,870.5 959.1,867.6 959.8,864.2 960.4,861.9 961.1,859.5 961.7,857.2 962.3,854.5 963.0,853.0 963.6,851.0 964.3,849.2 964.9,847.7 965.5,846.0 966.2,844.5 966.8,842.5 967.4,841.7 968.1,840.5 968.7,838.8 969.4,838.3 970.0,838.2 970.6,838.6 971.3,838.7 971.9,838.3 972.6,838.5 973.2,838.8 973.8,839.1 974.5,839.3 975.1,839.2 975.7,839.7 976.4,839.9 977.0,839.4 977.7,840.2 978.3,840.3 978.9,841.2 979.6,841.4 980.2,842.5 980.9,843.2 981.5,844.5 982.1,845.1 982.8,846.6 983.4,847.5 984.0,848.3 984.7,849.8 985.3,851.4 986.0,853.1 986.6,854.2 987.2,856.0 987.9,857.8 988.5,859.5 989.1,860.9 989.8,862.8 990.4,864.0 991.1,865.9 991.7,867.6 992.3,869.1 993.0,870.6 993.6,872.2 994.3,874.5 994.9,875.9 995.5,877.9 996.2,880.0 996.8,881.2 997.4,883.4 998.1,885.3 998.7,887.3 999.4,889.6 1000.0,892.0 1000.6,894.0 1001.3,896.9 1001.9,899.0 1002.6,902.1 1003.2,904.4 1003.8,908.0 1004.5,910.3 1005.1,913.9 1005.7,916.8 1006.4,919.6 1007.0,922.5 1007.7,925.0 1008.3,927.9 1008.9,931.2 1009.6,934.3 1010.2,936.9 1010.9,939.1 1011.5,941.4 1012.1,942.7 1012.8,944.5 1013.4,946.6 1014.0,947.7 1014.7,949.4 1015.3,950.8 1016.0,952.2 1016.6,952.7 1017.2,954.0 1017.9,955.1 1018.5,955.5 1019.1,956.1 1019.8,956.6 1020.4,956.4 1021.1,957.2 1021.7,957.3 1022.3,957.6 1023.0,958.5 1023.6,958.0 1024.3,958.9 1024.9,959.3 1025.5,958.8 1026.2,959.1 1026.8,959.9 1027.4,959.8 1028.1,960.1 1028.7,960.6 1029.4,960.2 1030.0,960.9 1030.6,960.9 1031.3,961.0 1031.9,961.2 1032.6,961.2 1033.2,961.4 1033.8,962.0 1034.5,962.3 1035.1,962.3 1035.7,962.5 1036.4,962.4 1037.0,962.8 1037.7,963.1 1038.3,963.6 1038.9,963.9 1039.6,964.0 1040.2,964.8 1040.9,965.1 1041.5,965.7 1042.1,965.8 1042.8,965.9 1043.4,966.5 1044.0,967.3 1044.7,967.1 1045.3,967.7 1046.0,968.7 1046.6,969.2 1047.2,969.6 1047.9,969.8 1048.5,970.4 1049.1,971.0 1049.8,971.5 1050.4,972.2 1051.1,973.0 1051.7,973.4 1052.3,974.6 1053.0,974.8 1053.6,975.6 1054.3,976.1 1054.9,976.9 1055.5,977.5 1056.2,978.0 1056.8,978.1 1057.4,978.6 1058.1,979.5 1058.7,979.6 1059.4,979.9 1060.0,979.9 1060.6,980.4 1061.3,980.3 1061.9,980.4 1062.6,980.4 1063.2,979.9 1063.8,980.7 1064.5,980.7 1065.1,980.3 1065.7,980.6 1066.4,980.0 1067.0,980.7 1067.7,981.2 1068.3,980.9 1068.9,981.2 1069.6,982.0 1070.2,982.5 1070.9,982.9 1071.5,983.1 1072.1,983.7 1072.8,984.3 1073.4,983.8 1074.0,984.2"/>
<path stroke="#0000ff" stroke-linejoin="round" stroke-linecap="round" d="M1824.7,976.7 1825.3,975.9 1826.0,975.7 1826.6,975.3 1827.2,974.0 1827.9,973.7 1828.5,973.5 1829.1,972.2 1829.8,971.5 1830.4,970.3 1831.1,969.7 1831.7,969.1 1832.3,968.4 1833.0,967.7 1833.6,966.7 1834.3,965.9 1834.9,964.5 1835.5,963.9 1836.2,963.1 1836.8,961.8 1837.4,961.4 1838.1,960.5 1838.7,959.3 1839.4,958.3 1840.0,957.5 1840.6,956.2 1841.3,955.3 1841.9,954.5 1842.6,953.2 1843.2,952.5 1843.8,951.5 1844.5,950.2 1845.1,949.7 1845.7,948.6 1846.4,948.1 1847.0,947.4 1847.7,946.4 1848.3,945.4 1848.9,944.7 1849.6,943.9 1850.2,943.0 1850.9,941.6 1851.5,940.2 1852.1,939.1 1852.8,937.3 1853.4,936.0 1854.0,935.3 1854.7,934.2 1855.3,933.6 1856.0,933.2 1856.6,932.9 1857.2,932.7 1857.9,932.4 1858.5,932.0 1859.1,931.4 1859.8,931.2 1860.4,930.6 1861.1,930.0 1861.7,929.0 1862.3,928.4 1863.0,927.7 1863.6,926.7 1864.3,925.6 1864.9,924.6 1865.5,923.4 1866.2,920.9 1866.8,918.1 1867.4,915.3 1868.1,913.6 1868.7,913.0 1869.4,912.5 1870.0,912.0 1870.6,912.0 1871.3,911.3 1871.9,911.5 1872.6,910.9 1873.2,911.3 1873.8,911.0 1874.5,911.3 1875.1,911.2 1875.7,911.2 1876.4,911.1 1877.0,911.7 1877.7,911.8 1878.3,911.8 1878.9,912.1 1879.6,912.2 1880.2,912.4 1880.9,913.1 1881.5,913.6 1882.1,913.8 1882.8,914.3 1883.4,914.7 1884.0,915.6 1884.7,915.9 1885.3,916.6 1886.0,917.2 1886.6,917.6 1887.2,918.0 1887.9,918.9 1888.5,919.7 1889.1,920.1 1889.8,920.6 1890.4,921.3 1891.1,922.1 1891.7,923.2 1892.3,923.8 1893.0,924.6 1893.6,925.6 1894.3,926.5 1894.9,926.9 1895.5,927.7 1896.2,928.3 1896.8,928.6 1897.4,929.0 1898.1,929.6 1898.7,930.0 1899.4,930.4 1900.0,930.5 1900.6,931.0 1901.3,931.5 1901.9,932.2 1902.6,932.7 1903.2,933.7 1903.8,935.0 1904.5,936.2 1905.1,937.3 1905.7,938.8 1906.4,940.3 1907.0,941.5 1907.7,942.8 1908.3,943.9 1908.9,945.1 1909.6,946.3 1910.2,947.6 1910.9,948.9 1911.5,950.0 1912.1,951.1 1912.8,952.4 1913.4,953.1 1914.0,954.4 1914.7,955.6 1915.3,956.1 1916.0,957.3 1916.6,958.1 1917.2,959.3 1917.9,960.2 1918.5,961.2 1919.1,961.9 1919.8,962.9 1920.4,963.5 1921.1,964.7 1921.7,965.2 1922.3,966.2 1923.0,967.1 1923.6,967.3 1924.3,968.4 1924.9,969.2 1925.5,969.7 1926.2,970.1 1926.8,970.9 1927.4,971.4 1928.1,972.0 1928.7,972.6 1929.4,973.4 1930.0,973.9 1930.6,974.3 1931.3,974.6 1931.9,975.2 1932.6,975.3 1933.2,975.6 1933.8,976.0 1934.5,976.0 1935.1,976.4 1935.7,976.4 1936.4,976.5 1937.0,976.3 1937.7,976.8 1938.3,976.8 1938.9,976.7 1939.6,977.4 1940.2,977.5 1940.9,977.8 1941.5,978.0 1942.1,979.0 1942.8,979.1 1943.4,979.8 1944.0,980.0 1944.7,980.7 1945.3,981.1 1946.0,981.2 1946.6,980.9 1947.2,981.2 1947.9,980.6 1948.5,980.4 1949.1,979.9 1949.8,979.4 1950.4,979.1 1951.1,978.5 1951.7,978.1 1952.3,977.9 1953.0,978.1 1953.6,977.9 1954.3,978.1 1954.9,978.4 1955.5,978.4 1956.2,978.6 1956.8,978.8 1957.4,979.3 1958.1,979.6 1958.7,979.6 1959.4,979.7 1960.0,979.9 1960.6,980.5 1961.3,980.4 1961.9,980.0 1962.6,980.3 1963.2,979.8 1963.8,979.6 1964.5,979.3 1965.1,978.9 1965.7,978.9 1966.4,978.4 1967.0,978.1 1967.7,977.9 1968.3,977.2 1968.9,977.1 1969.6,977.2 1970.2,977.2 1970.9,977.3 1971.5,977.5 1972.1,977.8 1972.8,977.8 1973.4,978.1 1974.0,978.8 1974.7,979.2 1975.3,979.5 1976.0,980.2 1976.6,980.5 1977.2,980.8 1977.9,981.2 1978.5,981.6 1979.1,981.8 1979.8,981.8 1980.4,981.8 1981.1,981.8 1981.7,981.9 1982.3,981.5 1983.0,981.6 1983.6,981.4 1984.3,980.8 1984.9,980.6 1985.5,980.1 1986.2,980.2 1986.8,979.6 1987.4,979.4 1988.1,979.1 1988.7,978.9 1989.4,978.9 1990.0,978.9 1990.6,978.6 1991.3,978.6 1991.9,978.5 1992.6,978.2 1993.2,978.4 1993.8,978.2 1994.5,978.0 1995.1,978.4 1995.7,978.3 1996.4,978.1 1997.0,978.0 1997.7,977.7 1998.3,978.2 1998.9,978.0 1999.6,978.1 2000.2,977.8 2000.9,977.9 2001.5,977.8 2002.1,978.4 2002.8,978.6 2003.4,978.8 2004.0,979.4 2004.7,979.7 2005.3,980.3 2006.0,980.5 2006.6,981.4 2007.2,981.5 2007.9,981.6 2008.5,981.6 2009.1,981.9 2009.8,981.8 2010.4,981.9 2011.1,981.3 2011.7,981.1 2012.3,981.3 2013.0,981.0 2013.6,980.4 2014.3,980.2 2014.9,980.1 2015.5,979.8 2016.2,979.3 2016.8,979.2 2017.4,979.1 2018.1,979.0 2018.7,978.5 2019.4,978.9 2020.0,978.8 2020.6,978.8 2021.3,978.9 2021.9,978.8 2022.6,978.8 2023.2,978.8 2023.8,978.6 2024.5,978.6 2025.1,978.6 2025.7,978.6 2026.4,978.6 2027.0,978.7 2027.7,978.7 2028.3,978.5 2028.9,978.6 2029.6,978.5 2030.2,978.9 2030.9,978.5 2031.5,978.9 2032.1,978.6 2032.8,978.5 2033.4,978.6 2034.0,979.1 2034.7,978.9 2035.3,979.2 2036.0,979.7 2036.6,979.5 2037.2,980.3 2037.9,980.3 2038.5,980.6 2039.1,980.8 2039.8,981.1 2040.4,981.5 2041.1,982.0 2041.7,982.2 2042.3,982.6 2043.0,982.3 2043.6,982.4 2044.3,982.6 2044.9,982.6 2045.5,982.5 2046.2,982.4 2046.8,982.5 2047.4,982.6 2048.1,982.4 2048.7,982.4 2049.4,982.3 2050.0,981.9 2050.6,981.9 2051.3,982.1 2051.9,981.8 2052.6,981.7 2053.2,981.9 2053.8,981.9 2054.5,981.9 2055.1,982.2 2055.7,982.7 2056.4,982.7 2057.0,983.0 2057.7,983.1 2058.3,983.6 2058.9,983.8 2059.6,984.2 2060.2,984.2 2060.9,984.1 2061.5,984.3 2062.1,984.3 2062.8,984.3 2063.4,984.1 2064.0,984.0 2064.7,983.9 2065.3,984.2 2066.0,984.1 2066.6,983.9 2067.2,984.1 2067.9,983.8 2068.5,983.7 2069.1,983.4 2069.8,983.4 2070.4,983.4 2071.1,983.4 2071.7,983.0 2072.3,982.7 2073.0,982.6 2073.6,982.2 2074.3,982.3 2074.9,981.7 2075.5,981.6 2076.2,981.5 2076.8,981.5 2077.4,981.2 2078.1,981.1 2078.7,980.9 2079.4,981.4 2080.0,981.4 2080.6,981.4 2081.3,981.8 2081.9,982.0 2082.6,982.1 2083.2,982.4 2083.8,982.8 2084.5,983.3 2085.1,983.5 2085.7,983.7 2086.4,984.0 2087.0,984.3 2087.7,984.3 2088.3,984.1 2088.9,984.1 2089.6,984.2 2090.2,984.2 2090.9,983.8 2091.5,983.7 2092.1,983.5 2092.8,983.4 2093.4,983.3 2094.0,983.1 2094.7,982.9 2095.3,982.5 2096.0,982.5 2096.6,982.4 2097.2,982.1 2097.9,982.1 2098.5,981.7 2099.1,981.8 2099.8,982.1 2100.4,982.1 2101.1,982.5 2101.7,982.7 2102.3,982.8 2103.0,983.2 2103.6,983.3 2104.3,983.6 2104.9,984.0 2105.5,983.9 2106.2,984.4 2106.8,984.3 2107.4,984.5 2108.1,984.3 2108.7,984.1 2109.4,984.1 2110.0,983.7 2110.6,983.9 2111.3,983.7 2111.9,983.3 2112.6,983.6 2113.2,983.4 2113.8,983.4 2114.5,983.6 2115.1,983.7 2115.7,983.7 2116.4,983.6 2117.0,983.5 2117.7,983.5 2118.3,983.5 2118.9,983.4 2119.6,983.5 2120.2,983.7"/>
<path stroke="#ff0000" stroke-linejoin="round" stroke-linecap="round" d="M1073.0,1000.3 1073.6,1000.2 1074.3,999.6 1074.9,1000.7 1075.5,1000.1 1076.2,1000.5 1076.8,1001.1 1077.4,1000.6 1078.1,1000.2 1078.7,1001.4 1079.4,1000.7 1080.0,1000.8 1080.6,1000.7 1081.3,1000.7 1081.9,1001.8 1082.6,1001.0 1083.2,1001.7 1083.8,1001.1 1084.5,1002.0 1085.1,1001.5 1085.7,1001.8 1086.4,1002.3 1087.0,1002.5 1087.7,1001.9 1088.3,1002.0 1088.9,1003.4 1089.6,1003.0 1090.2,1003.0 1090.9,1003.0 1091.5,1002.9 1092.1,1003.2 1092.8,1004.1 1093.4,1003.1 1094.0,1003.8 1094.7,1003.4 1095.3,1004.7 1096.0,1003.5 1096.6,1003.7 1097.2,1004.7 1097.9,1003.7 1098.5,1003.4 1099.1,1004.3 1099.8,1003.5 1100.4,1002.9 1101.1,1002.7 1101.7,1002.7 1102.3,1002.7 1103.0,1002.2 1103.6,1002.2 1104.3,1002.4 1104.9,1001.8 1105.5,1002.5 1106.2,1002.7 1106.8,1004.5 1107.4,1004.8 1108.1,1005.4 1108.7,1006.4 1109.4,1006.4 1110.0,1007.8 1110.6,1007.9 1111.3,1008.6 1111.9,1008.0 1112.6,1008.0 1113.2,1008.0 1113.8,1006.5 1114.5,1006.4 1115.1,1006.1 1115.7,1004.7 1116.4,1004.3 1117.0,1003.4 1117.7,1002.1 1118.3,1002.3 1118.9,1002.1 1119.6,1001.2 1120.2,1000.9 1120.9,1001.2 1121.5,1001.7 1122.1,1002.7 1122.8,1001.6 1123.4,1001.8 1124.0,1003.0 1124.7,1002.9 1125.3,1003.6 1126.0,1003.9 1126.6,1003.7 1127.2,1004.8 1127.9,1003.3 1128.5,1004.3 1129.1,1004.7 1129.8,1004.5 1130.4,1005.5 1131.1,1004.2 1131.7,1004.7 1132.3,1004.3 1133.0,1005.1 1133.6,1004.8 1134.3,1004.9 1134.9,1004.1 1135.5,1003.5 1136.2,1002.8 1136.8,1003.7 1137.4,1003.3 1138.1,1002.6 1138.7,1002.2 1139.4,1002.4 1140.0,1001.9 1140.6,1001.8 1141.3,1000.9 1141.9,1000.3 1142.6,1000.4 1143.2,1001.2 1143.8,1001.5 1144.5,1001.9 1145.1,1001.4 1145.7,1001.2 1146.4,1003.4 1147.0,1003.4 1147.7,1003.6 1148.3,1004.9 1148.9,1005.6 1149.6,1005.9 1150.2,1007.5 1150.9,1006.6 1151.5,1007.2 1152.1,1007.5 1152.8,1008.0 1153.4,1007.6 1154.0,1006.8 1154.7,1006.9 1155.3,1006.7 1156.0,1006.0 1156.6,1005.9 1157.2,1006.4 1157.9,1006.1 1158.5,1006.1 1159.1,1006.6 1159.8,1007.6 1160.4,1007.8 1161.1,1009.2 1161.7,1009.2 1162.3,1010.5 1163.0,1011.0 1163.6,1012.0 1164.3,1012.3 1164.9,1012.7 1165.5,1011.8 1166.2,1012.2 1166.8,1010.9 1167.4,1010.1 1168.1,1009.5 1168.7,1009.1 1169.4,1007.9 1170.0,1007.7 1170.6,1006.6 1171.3,1006.1 1171.9,1006.6 1172.6,1005.1 1173.2,1006.1 1173.8,1006.0 1174.5,1005.3 1175.1,1004.9 1175.7,1005.1 1176.4,1004.2 1177.0,1004.4 1177.7,1004.3 1178.3,1004.3 1178.9,1003.4 1179.6,1004.5 1180.2,1004.0 1180.9,1002.8 1181.5,1003.5 1182.1,1004.1 1182.8,1003.7 1183.4,1003.9 1184.0,1002.8 1184.7,1003.6 1185.3,1003.9 1186.0,1004.8 1186.6,1005.0 1187.2,1004.9 1187.9,1005.7 1188.5,1007.6 1189.1,1008.8 1189.8,1008.3 1190.4,1010.7 1191.1,1011.1 1191.7,1010.9 1192.3,1011.7 1193.0,1012.1 1193.6,1012.0 1194.3,1010.3 1194.9,1010.5 1195.5,1011.4 1196.2,1010.2 1196.8,1010.3 1197.4,1009.5 1198.1,1008.4 1198.7,1009.4 1199.4,1007.6 1200.0,1008.9 1200.6,1007.2 1201.3,1007.0 1201.9,1006.0 1202.6,1006.8 1203.2,1005.6 1203.8,1004.1 1204.5,1005.0 1205.1,1002.7 1205.7,1002.3 1206.4,1003.2 1207.0,1002.9 1207.7,1001.6 1208.3,1001.8 1208.9,1002.2 1209.6,1001.9 1210.2,1003.4 1210.9,1004.0 1211.5,1005.3 1212.1,1005.0 1212.8,1006.5 1213.4,1006.7 1214.0,1006.6 1214.7,1007.4 1215.3,1007.6 1216.0,1009.0 1216.6,1007.4 1217.2,1006.9 1217.9,1006.0 1218.5,1005.0 1219.1,1005.6 1219.8,1004.0 1220.4,1003.1 1221.1,1002.3 1221.7,1001.9 1222.3,999.8 1223.0,1000.1 1223.6,1000.2 1224.3,999.5 1224.9,999.3 1225.5,1000.4 1226.2,999.1 1226.8,998.9 1227.4,998.4 1228.1,1000.0 1228.7,998.8 1229.4,999.3 1230.0,998.1 1230.6,997.8 1231.3,998.0 1231.9,998.1 1232.6,999.1 1233.2,999.1 1233.8,1000.7 1234.5,1004.2 1235.1,1004.9 1235.7,1004.8 1236.4,1006.4 1237.0,1005.2 1237.7,1005.8 1238.3,1006.5 1238.9,1007.8 1239.6,1006.8 1240.2,1007.1 1240.9,1008.3 1241.5,1009.1 1242.1,1009.5 1242.8,1008.4 1243.4,1008.9 1244.0,1009.8 1244.7,1010.4 1245.3,1012.1 1246.0,1011.6 1246.6,1011.6 1247.2,1012.7 1247.9,1013.4 1248.5,1014.1 1249.1,1014.1 1249.8,1013.6 1250.4,1013.1 1251.1,1013.1 1251.7,1012.6 1252.3,1012.1 1253.0,1012.9 1253.6,1012.2 1254.3,1010.6 1254.9,1009.1 1255.5,1008.8 1256.2,1007.9 1256.8,1008.9 1257.4,1008.7 1258.1,1007.5 1258.7,1007.8 1259.4,1008.5 1260.0,1008.4 1260.6,1007.4 1261.3,1008.3 1261.9,1007.3 1262.6,1007.7 1263.2,1009.0 1263.8,1009.0 1264.5,1009.4 1265.1,1009.7 1265.7,1008.9 1266.4,1010.4 1267.0,1009.0 1267.7,1008.9 1268.3,1008.7 1268.9,1006.0 1269.6,1006.0 1270.2,1004.8 1270.9,1004.4 1271.5,1002.9 1272.1,1003.1 1272.8,1000.1 1273.4,1001.0 1274.0,1000.8 1274.7,1002.3 1275.3,1001.3 1276.0,1003.5 1276.6,1004.0 1277.2,1003.8 1277.9,1004.8 1278.5,1006.1 1279.1,1006.4 1279.8,1004.7 1280.4,1007.8 1281.1,1008.4 1281.7,1008.8 1282.3,1009.4 1283.0,1007.4 1283.6,1009.2 1284.3,1009.9 1284.9,1008.3 1285.5,1010.8 1286.2,1011.5 1286.8,1009.2 1287.4,1008.8 1288.1,1011.1 1288.7,1011.7 1289.4,1013.1 1290.0,1011.0 1290.6,1013.4 1291.3,1013.2 1291.9,1011.5 1292.6,1012.4 1293.2,1013.0 1293.8,1014.0 1294.5,1010.9 1295.1,1011.1 1295.7,1009.7 1296.4,1009.7 1297.0,1008.7 1297.7,1004.0 1298.3,1002.7 1298.9,1001.4 1299.6,998.3 1300.2,999.9 1300.9,996.4 1301.5,997.8 1302.1,995.2 1302.8,993.0 1303.4,991.6 1304.0,993.8 1304.7,993.1 1305.3,993.9 1306.0,996.0 1306.6,993.5 1307.2,995.6 1307.9,997.3 1308.5,997.5 1309.1,999.7 1309.8,999.4 1310.4,995.9 1311.1,999.3 1311.7,996.7 1312.3,998.8 1313.0,997.5 1313.6,998.4 1314.3,995.2 1314.9,996.4 1315.5,994.0 1316.2,996.9 1316.8,994.8 1317.4,994.9 1318.1,993.6 1318.7,997.1 1319.4,995.6 1320.0,996.3 1320.6,996.9 1321.3,997.2 1321.9,998.2 1322.6,999.2 1323.2,1000.0 1323.8,998.3 1324.5,999.7 1325.1,998.7 1325.7,1001.2 1326.4,999.9 1327.0,999.9 1327.7,1003.4 1328.3,1002.6 1328.9,1003.9 1329.6,1003.3 1330.2,1001.9 1330.9,1002.4 1331.5,1000.1 1332.1,999.9 1332.8,996.3 1333.4,998.0 1334.0,995.8 1334.7,996.6 1335.3,993.4 1336.0,992.2 1336.6,992.3 1337.2,992.7 1337.9,993.4 1338.5,991.5 1339.1,987.8 1339.8,988.8 1340.4,989.9 1341.1,989.2 1341.7,986.2 1342.3,987.1 1343.0,990.3 1343.6,988.8 1344.3,988.8 1344.9,987.4 1345.5,990.3 1346.2,992.2 1346.8,989.1 1347.4,991.8 1348.1,991.2 1348.7,993.2 1349.4,988.9 1350.0,989.2 1350.6,992.4 1351.3,989.3 1351.9,991.3 1352.6,991.7 1353.2,990.7 1353.8,990.0 1354.5,989.2 1355.1,987.3 1355.7,983.5 1356.4,985.5 1357.0,984.7 1357.7,983.4 1358.3,981.6 1358.9,981.9 1359.6,978.0 1360.2,981.4 1360.9,977.5 1361.5,977.6 1362.1,977.3 1362.8,978.3 1363.4,981.4 1364.0,979.9 1364.7,981.0 1365.3,979.3 1366.0,979.5 1366.6,977.0 1367.2,976.8 1367.9,976.0 1368.5,973.5 1369.1,971.0 1369.8,964.2 1370.4,961.4 1371.1,958.1 1371.7,956.9 1372.3,955.2 1373.0,953.8 1373.6,951.4 1374.3,947.3 1374.9,947.1 1375.5,947.3 1376.2,947.1 1376.8,945.1 1377.4,947.6 1378.1,948.2 1378.7,945.7 1379.4,945.7 1380.0,944.3 1380.6,945.0 1381.3,943.1 1381.9,945.6 1382.6,946.8 1383.2,947.6 1383.8,947.5 1384.5,949.0 1385.1,945.6 1385.7,945.6 1386.4,949.4 1387.0,949.8 1387.7,950.8 1388.3,951.7 1388.9,955.6 1389.6,959.0 1390.2,956.7 1390.9,962.3 1391.5,962.3 1392.1,960.3 1392.8,963.8 1393.4,963.1 1394.0,963.9 1394.7,962.8 1395.3,964.2 1396.0,965.2 1396.6,965.0 1397.2,965.5 1397.9,964.7 1398.5,966.4 1399.1,964.9 1399.8,968.0 1400.4,966.7 1401.1,969.5 1401.7,973.4 1402.3,974.3 1403.0,978.6 1403.6,979.2 1404.3,981.3 1404.9,979.3 1405.5,981.2 1406.2,980.0 1406.8,976.6 1407.4,978.7 1408.1,976.7 1408.7,972.7 1409.4,971.2 1410.0,970.4 1410.6,972.0 1411.3,968.5 1411.9,965.0 1412.6,963.8 1413.2,959.0 1413.8,958.8 1414.5,962.1 1415.1,962.0 1415.7,967.1 1416.4,970.2 1417.0,970.9 1417.7,977.2 1418.3,976.3 1418.9,982.3 1419.6,982.6 1420.2,984.2 1420.9,987.8 1421.5,991.0 1422.1,988.3 1422.8,989.0 1423.4,990.7 1424.0,989.9 1424.7,988.1 1425.3,986.9 1426.0,987.6 1426.6,983.8 1427.2,986.4 1427.9,981.3 1428.5,981.4 1429.1,983.8 1429.8,985.4 1430.4,986.4 1431.1,986.3 1431.7,984.3 1432.3,988.5 1433.0,988.6 1433.6,991.1 1434.3,989.4 1434.9,989.8 1435.5,993.0 1436.2,989.0 1436.8,990.5 1437.4,990.8 1438.1,988.6 1438.7,987.1 1439.4,984.6 1440.0,983.1 1440.6,978.3 1441.3,977.7 1441.9,979.1 1442.6,979.7 1443.2,979.6 1443.8,978.0 1444.5,973.2 1445.1,976.6 1445.7,978.0 1446.4,974.4 1447.0,978.8 1447.7,983.1 1448.3,982.9 1448.9,991.2 1449.6,993.0 1450.2,998.0 1450.9,1001.3 1451.5,1005.2 1452.1,1008.2 1452.8,1014.5 1453.4,1013.3 1454.0,1010.8 1454.7,1013.1 1455.3,1009.9 1456.0,1008.0 1456.6,1005.0 1457.2,1005.0 1457.9,997.1 1458.5,996.3 1459.1,993.5 1459.8,995.1 1460.4,990.8 1461.1,990.0 1461.7,986.8 1462.3,984.5 1463.0,982.9 1463.6,980.7 1464.3,981.2 1464.9,985.1 1465.5,983.2 1466.2,985.7 1466.8,986.7 1467.4,987.9 1468.1,986.6 1468.7,984.6 1469.4,985.1 1470.0,991.5 1470.6,989.4 1471.3,991.3 1471.9,993.2 1472.6,995.3 1473.2,998.7 1473.8,998.3 1474.5,996.1 1475.1,1002.3 1475.7,1004.6 1476.4,1007.5 1477.0,1007.2 1477.7,1012.3 1478.3,1012.4 1478.9,1012.5 1479.6,1013.7 1480.2,1015.8 1480.9,1015.6 1481.5,1019.7 1482.1,1016.7 1482.8,1016.1 1483.4,1015.5 1484.0,1011.0 1484.7,1005.6 1485.3,1005.2 1486.0,1001.6 1486.6,1004.1 1487.2,1005.1 1487.9,1004.2 1488.5,1010.6 1489.1,1007.7 1489.8,1010.5 1490.4,1015.9 1491.1,1014.6 1491.7,1019.1 1492.3,1020.2 1493.0,1028.2 1493.6,1024.3 1494.3,1032.3 1494.9,1031.1 1495.5,1027.4 1496.2,1029.8 1496.8,1030.9 1497.4,1031.3 1498.1,1026.3 1498.7,1025.3 1499.4,1026.0 1500.0,1025.2 1500.6,1021.4 1501.3,1026.2 1501.9,1025.8 1502.6,1020.9 1503.2,1023.3 1503.8,1018.7 1504.5,1019.8 1505.1,1023.1 1505.7,1021.4 1506.4,1017.8 1507.0,1022.9 1507.7,1020.3 1508.3,1021.8 1508.9,1018.1 1509.6,1020.2 1510.2,1021.4 1510.9,1020.3 1511.5,1018.6 1512.1,1020.0 1512.8,1020.4 1513.4,1017.0 1514.0,1020.7 1514.7,1014.9 1515.3,1015.8 1516.0,1020.8 1516.6,1018.5 1517.2,1020.3 1517.9,1014.6 1518.5,1016.9 1519.1,1020.2 1519.8,1018.5 1520.4,1018.6 1521.1,1017.8 1521.7,1019.1 1522.3,1017.6 1523.0,1013.2 1523.6,1013.4 1524.3,1019.4 1524.9,1017.1 1525.5,1012.6 1526.2,1014.9 1526.8,1019.9 1527.4,1019.8 1528.1,1023.2 1528.7,1016.7 1529.4,1020.4 1530.0,1026.4 1530.6,1027.8 1531.3,1027.2 1531.9,1028.3 1532.6,1031.0 1533.2,1028.3 1533.8,1026.9 1534.5,1031.3 1535.1,1027.1 1535.7,1032.7 1536.4,1030.0 1537.0,1025.0 1537.7,1027.7 1538.3,1027.8 1538.9,1025.8 1539.6,1018.8 1540.2,1021.1 1540.9,1025.7 1541.5,1024.7 1542.1,1016.9 1542.8,1024.3 1543.4,1025.2 1544.0,1022.8 1544.7,1022.1 1545.3,1020.9 1546.0,1015.9 1546.6,1016.6 1547.2,1016.5 1547.9,1023.1 1548.5,1019.7 1549.1,1016.2 1549.8,1019.4 1550.4,1027.7 1551.1,1025.1 1551.7,1029.7 1552.3,1030.2 1553.0,1026.6 1553.6,1033.2 1554.3,1029.0 1554.9,1027.1 1555.5,1035.2 1556.2,1036.5 1556.8,1030.2 1557.4,1034.5 1558.1,1033.7 1558.7,1037.3 1559.4,1035.1 1560.0,1037.0 1560.6,1031.8 1561.3,1034.3 1561.9,1028.5 1562.6,1034.4 1563.2,1027.3 1563.8,1031.3 1564.5,1031.4 1565.1,1030.8 1565.7,1030.8 1566.4,1029.2 1567.0,1024.4 1567.7,1024.6 1568.3,1024.4 1568.9,1027.3 1569.6,1029.2 1570.2,1020.0 1570.9,1022.7 1571.5,1026.8 1572.1,1020.5 1572.8,1019.8 1573.4,1026.8 1574.0,1019.3 1574.7,1023.5 1575.3,1020.8 1576.0,1025.0 1576.6,1018.5 1577.2,1024.6 1577.9,1026.4 1578.5,1020.0 1579.1,1021.0 1579.8,1020.0 1580.4,1021.3 1581.1,1026.6 1581.7,1023.5 1582.3,1018.7 1583.0,1025.6 1583.6,1017.8 1584.3,1017.8 1584.9,1015.6 1585.5,1016.5 1586.2,1018.4 1586.8,1015.0 1587.4,1020.2 1588.1,1015.3 1588.7,1020.3 1589.4,1022.9 1590.0,1017.8 1590.6,1017.2 1591.3,1021.7 1591.9,1019.3 1592.6,1018.3 1593.2,1017.3 1593.8,1021.2 1594.5,1015.7 1595.1,1015.1 1595.7,1018.3 1596.4,1021.6 1597.0,1019.4 1597.7,1021.4 1598.3,1018.6 1598.9,1022.3 1599.6,1022.3 1600.2,1020.2 1600.9,1020.6 1601.5,1020.6 1602.1,1017.8 1602.8,1022.1 1603.4,1027.9 1604.0,1021.2 1604.7,1027.7 1605.3,1023.0 1606.0,1025.8 1606.6,1024.6 1607.2,1021.7 1607.9,1022.5 1608.5,1025.1 1609.1,1019.6 1609.8,1022.8 1610.4,1022.9 1611.1,1025.0 1611.7,1015.3 1612.3,1022.3 1613.0,1018.3 1613.6,1020.4 1614.3,1012.4 1614.9,1018.8 1615.5,1016.9 1616.2,1018.6 1616.8,1014.0 1617.4,1020.6 1618.1,1020.9 1618.7,1012.7 1619.4,1013.1 1620.0,1015.3 1620.6,1021.3 1621.3,1020.6 1621.9,1020.4 1622.6,1022.3 1623.2,1027.6 1623.8,1026.9 1624.5,1027.6 1625.1,1027.5 1625.7,1023.3 1626.4,1023.7 1627.0,1023.6 1627.7,1023.8 1628.3,1022.0 1628.9,1027.9 1629.6,1021.6 1630.2,1027.1 1630.9,1026.4 1631.5,1026.2 1632.1,1026.9 1632.8,1019.2 1633.4,1027.3 1634.0,1023.8 1634.7,1021.8 1635.3,1022.7 1636.0,1018.6 1636.6,1023.5 1637.2,1014.7 1637.9,1015.0 1638.5,1020.8 1639.1,1018.7 1639.8,1021.6 1640.4,1015.3 1641.1,1014.3 1641.7,1017.5 1642.3,1013.6 1643.0,1020.2 1643.6,1014.3 1644.3,1018.8 1644.9,1020.6 1645.5,1020.9 1646.2,1023.2 1646.8,1022.1 1647.4,1019.0 1648.1,1017.7 1648.7,1017.6 1649.4,1023.6 1650.0,1018.5 1650.6,1021.9 1651.3,1025.5 1651.9,1017.6 1652.6,1019.8 1653.2,1023.1 1653.8,1024.4 1654.5,1019.7 1655.1,1023.6 1655.7,1021.5 1656.4,1018.4 1657.0,1022.8 1657.7,1026.4 1658.3,1024.6 1658.9,1022.7 1659.6,1021.3 1660.2,1024.5 1660.9,1025.7 1661.5,1023.8 1662.1,1018.3 1662.8,1018.2 1663.4,1015.2 1664.0,1014.6 1664.7,1019.2 1665.3,1014.5 1666.0,1015.1 1666.6,1021.9 1667.2,1016.2 1667.9,1017.8 1668.5,1020.0 1669.1,1017.3 1669.8,1014.7 1670.4,1021.3 1671.1,1019.8 1671.7,1014.4 1672.3,1020.2 1673.0,1021.2 1673.6,1016.7 1674.3,1021.9 1674.9,1015.4 1675.5,1017.7 1676.2,1022.2 1676.8,1018.5 1677.4,1015.0 1678.1,1020.6 1678.7,1022.6 1679.4,1017.9 1680.0,1021.2 1680.6,1023.1 1681.3,1016.1 1681.9,1023.0 1682.6,1017.2 1683.2,1019.4 1683.8,1022.4 1684.5,1020.5 1685.1,1019.1 1685.7,1019.6 1686.4,1018.7 1687.0,1013.3 1687.7,1017.9 1688.3,1018.7 1688.9,1017.4 1689.6,1016.7 1690.2,1014.9 1690.9,1013.3 1691.5,1014.5 1692.1,1017.1 1692.8,1016.1 1693.4,1014.9 1694.0,1013.6 1694.7,1018.5 1695.3,1017.8 1696.0,1013.1 1696.6,1017.4 1697.2,1016.0 1697.9,1013.9 1698.5,1014.3 1699.1,1015.1 1699.8,1018.5 1700.4,1019.2 1701.1,1016.5 1701.7,1021.3 1702.3,1020.2 1703.0,1017.8 1703.6,1020.3 1704.3,1020.7 1704.9,1018.7 1705.5,1019.8 1706.2,1015.3 1706.8,1015.7 1707.4,1012.4 1708.1,1010.6 1708.7,1011.6 1709.4,1012.0 1710.0,1009.3 1710.6,1011.3 1711.3,1013.7 1711.9,1013.0 1712.6,1015.4 1713.2,1011.0 1713.8,1014.7 1714.5,1016.2 1715.1,1014.3 1715.7,1014.8 1716.4,1015.1 1717.0,1012.6 1717.7,1014.2 1718.3,1014.1 1718.9,1012.7 1719.6,1014.2 1720.2,1013.2 1720.9,1012.1 1721.5,1013.5 1722.1,1011.0 1722.8,1014.0 1723.4,1011.3 1724.0,1013.5 1724.7,1009.7 1725.3,1013.2 1726.0,1013.0 1726.6,1009.5 1727.2,1008.9 1727.9,1010.5 1728.5,1010.3 1729.1,1008.9 1729.8,1010.4 1730.4,1012.8 1731.1,1012.7 1731.7,1012.8 1732.3,1010.6 1733.0,1012.5 1733.6,1013.8 1734.3,1009.9 1734.9,1015.0 1735.5,1015.0 1736.2,1012.5 1736.8,1014.0 1737.4,1012.7 1738.1,1015.4 1738.7,1017.3 1739.4,1015.3 1740.0,1013.5 1740.6,1013.6 1741.3,1013.7 1741.9,1011.7 1742.6,1014.1 1743.2,1011.3 1743.8,1008.6 1744.5,1011.2 1745.1,1008.4 1745.7,1008.4 1746.4,1010.6 1747.0,1008.8 1747.7,1008.1 1748.3,1009.2 1748.9,1011.9 1749.6,1011.6 1750.2,1009.8 1750.9,1013.2 1751.5,1010.0 1752.1,1012.0 1752.8,1014.2 1753.4,1011.5 1754.0,1010.3 1754.7,1013.7 1755.3,1012.7 1756.0,1014.0 1756.6,1010.2 1757.2,1013.0 1757.9,1013.1 1758.5,1013.0 1759.1,1010.7 1759.8,1010.3 1760.4,1013.5 1761.1,1012.2 1761.7,1013.7 1762.3,1011.0 1763.0,1013.9 1763.6,1012.2 1764.3,1012.7 1764.9,1012.5 1765.5,1012.9 1766.2,1011.9 1766.8,1010.8 1767.4,1011.6 1768.1,1011.8 1768.7,1011.9 1769.4,1013.1 1770.0,1012.2 1770.6,1010.7 1771.3,1010.5 1771.9,1013.8 1772.6,1011.6 1773.2,1011.3 1773.8,1011.3 1774.5,1010.7 1775.1,1011.3 1775.7,1012.1 1776.4,1013.1 1777.0,1013.6 1777.7,1011.3 1778.3,1011.1 1778.9,1011.1 1779.6,1011.5 1780.2,1011.1 1780.9,1012.8 1781.5,1012.7 1782.1,1012.8 1782.8,1012.6 1783.4,1010.8 1784.0,1012.2 1784.7,1012.6 1785.3,1012.8 1786.0,1012.7 1786.6,1012.8 1787.2,1012.0 1787.9,1012.1 1788.5,1010.5 1789.1,1012.2 1789.8,1010.0 1790.4,1010.6 1791.1,1009.9 1791.7,1010.6 1792.3,1010.7 1793.0,1010.2 1793.6,1010.1 1794.3,1011.4 1794.9,1010.3 1795.5,1011.5 1796.2,1011.9 1796.8,1013.2 1797.4,1013.8 1798.1,1013.4 1798.7,1014.4 1799.4,1012.8 1800.0,1013.0 1800.6,1014.2 1801.3,1013.4 1801.9,1014.5 1802.6,1013.1 1803.2,1012.9 1803.8,1013.2 1804.5,1013.5 1805.1,1013.1 1805.7,1013.0 1806.4,1013.2 1807.0,1012.0 1807.7,1011.7 1808.3,1011.8 1808.9,1012.0 1809.6,1012.6 1810.2,1012.0 1810.9,1011.9 1811.5,1010.9 1812.1,1011.6 1812.8,1011.5 1813.4,1010.2 1814.0,1009.8 1814.7,1010.0 1815.3,1009.2 1816.0,1009.6 1816.6,1009.3 1817.2,1008.9 1817.9,1008.2 1818.5,1008.2 1819.1,1007.2 1819.8,1007.1 1820.4,1006.4 1821.1,1006.0 1821.7,1006.2 1822.3,1005.1 1823.0,1005.2 1823.6,1004.2 1824.3,1004.3 1824.9,1002.9 1825.5,1002.8"/>
<path stroke="#ff0000" stroke-linejoin="round" stroke-linecap="round" d="M278.3,0.0 279.1,25.8 280.0,51.1 280.9,75.6 281.7,99.5 282.6,123.0 283.4,146.4 284.3,169.9 285.1,193.7 286.0,218.0 286.8,243.2 287.7,270.0 288.5,298.3 289.4,327.3 290.2,356.2 291.1,384.3 291.9,410.6 292.8,434.5 293.6,456.1 294.5,477.1 295.3,497.6 296.2,517.5 297.0,536.7 297.9,555.1 298.7,572.6 299.6,589.0 300.4,604.4 301.3,618.5 302.1,631.3 303.0,642.7 303.8,653.1 304.7,662.6 305.5,671.4 306.4,679.7 307.2,687.5 308.1,694.9 308.9,702.1 309.8,709.1 310.6,716.2 311.5,723.3 312.3,730.7 313.2,738.4 314.0,746.5 314.9,754.7 315.7,763.1 316.6,771.6 317.4,780.1 318.3,788.4 319.1,796.6 320.0,804.5 320.9,812.1 321.7,819.2 322.6,825.8 323.4,831.8 324.3,837.2 325.1,841.8 326.0,845.9 326.8,849.7 327.7,853.1 328.5,856.2 329.4,859.1 330.2,861.9 331.1,864.5 331.9,866.9 332.8,869.2 333.6,871.4 334.5,873.5 335.3,875.6 336.2,877.6 337.0,879.6 337.9,881.5 338.7,883.5 339.6,885.4 340.4,887.2 341.3,889.0 342.1,890.7 343.0,892.3 343.8,893.8 344.7,895.1 345.5,896.4 346.4,897.5 347.2,898.6 348.1,899.6 348.9,900.6 349.8,901.5 350.6,902.4 351.5,903.2 352.3,904.1 353.2,904.9 354.0,905.8 354.9,906.7 355.7,907.7 356.6,908.7 357.4,909.6 358.3,910.5 359.1,911.2 360.0,911.7 360.9,911.9 361.7,911.9 362.6,911.8 363.4,911.6 364.3,911.3 365.1,910.9 366.0,910.4 366.8,909.9 367.7,909.4 368.5,908.9 369.4,908.3 370.2,907.8 371.1,907.3 371.9,906.7 372.8,905.9 373.6,905.2 374.5,904.4 375.3,903.6 376.2,902.9 377.0,902.2 377.9,901.7 378.7,901.4 379.6,901.1 380.4,900.9 381.3,900.7 382.1,900.6 383.0,900.4 383.8,900.3 384.7,900.2 385.5,900.2 386.4,900.2 387.2,900.3 388.1,900.4 388.9,900.5 389.8,900.7 390.6,900.9 391.5,901.0 392.3,901.2 393.2,901.2 394.0,901.3 394.9,901.2 395.7,900.8 396.6,900.3 397.4,899.5 398.3,898.5 399.1,897.5 400.0,895.6 400.9,892.2 401.7,888.7 402.6,886.3 403.4,885.4 404.3,884.5 405.1,883.9 406.0,883.5 406.8,883.3 407.7,883.4 408.5,883.9 409.4,884.5 410.2,885.4 411.1,886.5 411.9,887.7 412.8,889.5 413.6,892.4 414.5,895.9 415.3,899.8 416.2,903.5 417.0,907.4 417.9,911.8 418.7,916.1 419.6,920.0 420.4,922.7 421.3,924.5 422.1,926.0 423.0,927.2 423.8,928.3 424.7,929.3 425.5,930.2 426.4,931.3 427.2,932.5 428.1,934.0 428.9,935.8 429.8,938.0 430.6,940.3 431.5,942.7 432.3,944.9 433.2,946.7 434.0,948.3 434.9,949.8 435.7,951.2 436.6,952.6 437.4,953.8 438.3,955.0 439.1,956.2 440.0,957.3 440.9,958.4 441.7,959.5 442.6,960.6 443.4,961.8 444.3,962.8 445.1,963.8 446.0,964.6 446.8,965.0 447.7,965.3 448.5,965.5 449.4,965.7 450.2,965.9 451.1,966.0 451.9,966.2 452.8,966.4 453.6,966.6 454.5,966.9 455.3,967.3 456.2,967.7 457.0,968.1 457.9,968.4 458.7,968.7 459.6,968.9 460.4,968.9 461.3,968.7 462.1,968.3 463.0,967.6 463.8,966.8 464.7,965.9 465.5,965.0 466.4,964.1 467.2,963.4 468.1,962.9 468.9,962.5 469.8,962.3 470.6,962.1 471.5,962.0 472.3,961.9 473.2,961.8 474.0,961.7 474.9,961.6 475.7,961.4 476.6,961.2 477.4,960.9 478.3,960.4 479.1,959.6 480.0,958.6 480.9,957.4 481.7,955.9 482.6,954.4 483.4,952.6 484.3,950.8 485.1,948.2 486.0,944.9 486.8,941.1 487.7,936.7 488.5,932.1 489.4,927.3 490.2,921.5 491.1,915.0 491.9,908.0 492.8,900.8 493.6,893.1 494.5,884.9 495.3,876.6 496.2,868.7 497.0,861.8 497.9,854.8 498.7,846.2 499.6,832.6 500.4,817.8 501.3,807.5 502.1,799.3 503.0,793.0 503.8,788.6 504.7,785.1 505.5,782.2 506.4,779.5 507.2,776.7 508.1,773.1 508.9,769.0 509.8,766.5 510.6,766.8 511.5,768.4 512.3,770.9 513.2,773.8 514.0,776.6 514.9,779.9 515.7,783.7 516.6,788.1 517.4,793.1 518.3,799.3 519.1,806.5 520.0,814.2 520.9,822.2 521.7,830.5 522.6,839.5 523.4,848.4 524.3,856.4 525.1,863.8 526.0,870.8 526.8,877.4 527.7,883.4 528.5,888.8 529.4,893.8 530.2,898.6 531.1,903.1 531.9,907.3 532.8,911.3 533.6,915.0 534.5,918.4 535.3,921.7 536.2,924.9 537.0,927.9 537.9,930.7 538.7,933.1 539.6,935.0 540.4,936.5 541.3,937.9 542.1,939.2 543.0,940.1 543.8,940.6 544.7,940.5 545.5,940.1 546.4,939.3 547.2,938.3 548.1,937.1 548.9,935.8 549.8,934.3 550.6,932.6 551.5,930.2 552.3,927.2 553.2,923.9 554.0,920.4 554.9,917.2 555.7,914.1 556.6,911.0 557.4,907.8 558.3,904.6 559.1,901.4 560.0,898.2 560.9,894.9 561.7,891.6 562.6,888.3 563.4,885.1 564.3,881.9 565.1,878.6 566.0,875.3 566.8,871.8 567.7,868.2 568.5,864.5 569.4,860.5 570.2,856.4 571.1,852.1 571.9,847.5 572.8,842.7 573.6,837.6 574.5,832.0 575.3,826.0 576.2,819.7 577.0,813.2 577.9,806.3 578.7,798.9 579.6,790.7 580.4,781.7 581.3,771.6 582.1,760.0 583.0,746.0 583.8,729.5 584.7,711.6 585.5,693.3 586.4,675.7 587.2,658.8 588.1,642.0 588.9,624.8 589.8,606.8 590.6,587.6 591.5,566.5 592.3,543.2 593.2,518.3 594.0,492.8 594.9,467.0 595.7,439.6 596.6,412.0 597.4,386.0 598.3,362.5 599.1,340.0 600.0,318.6 600.9,298.4 601.7,279.9 602.6,262.6 603.4,246.2 604.3,232.1 605.1,221.1 606.0,211.2 606.8,205.3 607.7,206.9 608.5,213.7 609.4,222.8 610.2,232.7 611.1,245.7 611.9,260.5 612.8,275.5 613.6,290.0 614.5,304.6 615.3,319.7 616.2,335.7 617.0,353.1 617.9,372.3 618.7,394.3 619.6,421.0 620.4,450.3 621.3,480.0 622.1,511.8 623.0,545.2 623.8,574.1 624.7,595.6 625.5,614.1 626.4,630.6 627.2,645.6 628.1,660.0 628.9,674.4 629.8,689.4 630.6,704.4 631.5,719.3 632.3,733.8 633.2,747.7 634.0,760.8 634.9,773.0 635.7,784.0 636.6,794.4 637.4,804.2 638.3,813.3 639.1,821.5 640.0,828.6 640.9,834.9 641.7,840.5 642.6,845.7 643.4,850.6 644.3,855.6 645.1,860.7 646.0,865.9 646.8,871.2 647.7,876.5 648.5,881.6 649.4,886.6 650.2,891.2 651.1,895.7 651.9,900.0 652.8,904.0 653.6,907.6 654.5,911.1 655.3,914.4 656.2,916.1 657.0,915.7 657.9,914.4 658.7,912.7 659.6,911.0 660.4,909.2 661.3,907.0 662.1,904.7 663.0,902.3 663.8,899.8 664.7,897.5 665.5,895.4 666.4,893.1 667.2,891.0 668.1,889.1 668.9,887.4 669.8,885.7 670.6,884.5 671.5,884.4 672.3,885.3 673.2,886.7 674.0,888.2 674.9,890.1 675.7,892.6 676.6,895.3 677.4,898.0 678.3,901.0 679.1,904.2 680.0,907.8 680.9,912.1 681.7,917.1 682.3,921.0 683.0,925.0 683.6,928.8 684.3,932.4 684.9,936.1 685.5,939.8 686.2,943.3 686.8,946.4 687.4,949.2 688.1,951.8 688.7,954.2 689.4,956.7 690.0,959.4 690.6,962.3 691.3,966.0 691.9,970.2 692.6,974.1 693.2,977.1 693.8,978.9 694.5,980.3 695.1,981.6 695.7,982.7 696.4,983.7 697.0,984.6 697.7,985.5 698.3,986.5 698.9,987.2 699.6,988.1 700.2,988.8 700.9,989.6 701.5,990.4 702.1,991.2 702.8,992.1 703.4,992.8 704.0,993.7 704.7,994.4 705.3,995.2 706.0,996.1 706.6,996.9 707.2,997.6 707.9,998.5 708.5,999.3 709.1,1000.0 709.8,1000.7 710.4,1001.1 711.1,1001.9 711.7,1002.4 712.3,1002.7 713.0,1003.5 713.6,1003.8 714.3,1004.1 714.9,1004.9 715.5,1005.2 716.2,1005.7 716.8,1006.1 717.4,1006.3 718.1,1006.8 718.7,1007.0 719.4,1007.4 720.0,1007.7 720.6,1008.2 721.3,1008.7 721.9,1008.9 722.6,1009.4 723.2,1009.4 723.8,1010.0 724.5,1010.3 725.1,1010.4 725.7,1010.7 726.4,1010.9 727.0,1011.3 727.7,1011.5 728.3,1011.8 728.9,1011.9 729.6,1012.4 730.2,1012.4 730.9,1012.6 731.5,1012.7 732.1,1012.9 732.8,1013.3 733.4,1013.4 734.0,1013.8 734.7,1013.6 735.3,1014.0 736.0,1014.4 736.6,1014.2 737.2,1014.7 737.9,1014.9 738.5,1014.6 739.1,1015.2 739.8,1015.0 740.4,1015.3 741.1,1015.4 741.7,1015.3 742.3,1015.3 743.0,1015.7 743.6,1015.7 744.3,1015.6 744.9,1015.7 745.5,1015.6 746.2,1015.4 746.8,1015.8 747.4,1015.5 748.1,1015.6 748.7,1015.7 749.4,1015.9 750.0,1015.7 750.6,1015.6 751.3,1015.8 751.9,1016.0 752.6,1015.9 753.2,1015.7 753.8,1016.0 754.5,1015.8 755.1,1015.7 755.7,1015.8 756.4,1015.8 757.0,1015.8 757.7,1015.8 758.3,1016.1 758.9,1015.8 759.6,1015.9 760.2,1016.3 760.9,1016.0 761.5,1015.8 762.1,1016.1 762.8,1015.7 763.4,1016.2 764.0,1015.9 764.7,1016.2 765.3,1015.6 766.0,1015.8 766.6,1015.6 767.2,1016.1 767.9,1015.7 768.5,1015.8 769.1,1015.4 769.8,1015.4 770.4,1015.8 771.1,1015.6 771.7,1015.4 772.3,1015.5 773.0,1015.7 773.6,1015.2 774.3,1015.5 774.9,1015.4 775.5,1015.3 776.2,1015.3 776.8,1015.1 777.4,1014.7 778.1,1014.9 778.7,1014.5 779.4,1014.6 780.0,1014.5 780.6,1013.9 781.3,1014.2 781.9,1013.7 782.6,1013.6 783.2,1014.0 783.8,1013.8 784.5,1013.7 785.1,1013.6 785.7,1013.3 786.4,1013.6 787.0,1013.4 787.7,1013.8 788.3,1013.9 788.9,1013.4 789.6,1013.8 790.2,1013.8 790.9,1014.2 791.5,1014.5 792.1,1014.6 792.8,1015.0 793.4,1015.2 794.0,1015.6 794.7,1015.3 795.3,1015.7 796.0,1016.0 796.6,1015.8 797.2,1015.9 797.9,1016.0 798.5,1016.1 799.1,1016.6 799.8,1016.3 800.4,1016.4 801.1,1016.0 801.7,1016.0 802.3,1016.2 803.0,1015.4 803.6,1015.3 804.3,1015.5 804.9,1015.2 805.5,1014.9 806.2,1015.0 806.8,1014.5 807.4,1014.3 808.1,1014.5 808.7,1014.5 809.4,1014.8 810.0,1015.1 810.6,1015.5 811.3,1016.1 811.9,1016.4 812.6,1016.5 813.2,1016.9 813.8,1017.3 814.5,1017.6 815.1,1017.7 815.7,1017.7 816.4,1017.6 817.0,1017.8 817.7,1017.8 818.3,1017.4 818.9,1017.3 819.6,1017.1 820.2,1017.0 820.9,1016.6 821.5,1016.6 822.1,1016.0 822.8,1016.1 823.4,1015.6 824.0,1015.1 824.7,1015.3 825.3,1014.5 826.0,1014.8 826.6,1014.4 827.2,1013.9 827.9,1013.9 828.5,1013.9 829.1,1013.8 829.8,1013.9 830.4,1013.8 831.1,1014.1 831.7,1014.4 832.3,1014.4 833.0,1014.5 833.6,1014.6 834.3,1014.8 834.9,1014.8 835.5,1014.5 836.2,1014.7 836.8,1014.6 837.4,1014.9 838.1,1015.3 838.7,1014.9 839.4,1015.2 840.0,1015.0 840.6,1015.6 841.3,1015.6 841.9,1015.0 842.6,1015.0 843.2,1015.3 843.8,1015.4 844.5,1015.0 845.1,1014.8 845.7,1014.5 846.4,1014.7 847.0,1014.0 847.7,1013.9 848.3,1013.6 848.9,1013.8 849.6,1013.7 850.2,1013.3 850.9,1012.8 851.5,1013.1 852.1,1012.8 852.8,1012.7 853.4,1012.4 854.0,1012.2 854.7,1012.0 855.3,1012.0 856.0,1011.4 856.6,1011.2 857.2,1011.5 857.9,1011.5 858.5,1011.4 859.1,1011.4 859.8,1011.4 860.4,1011.2 861.1,1011.5 861.7,1011.4 862.3,1011.1 863.0,1011.6 863.6,1011.4 864.3,1011.0 864.9,1011.4 865.5,1011.2 866.2,1011.1 866.8,1011.5 867.4,1011.4 868.1,1011.6 868.7,1011.5 869.4,1011.3 870.0,1011.1 870.6,1011.6 871.3,1011.5 871.9,1011.7 872.6,1011.4 873.2,1011.6 873.8,1011.4 874.5,1011.4 875.1,1011.2 875.7,1011.1 876.4,1011.6 877.0,1011.1 877.7,1011.6 878.3,1011.3 878.9,1011.0 879.6,1011.4 880.2,1011.0 880.9,1010.8 881.5,1010.7 882.1,1010.6 882.8,1011.0 883.4,1010.5 884.0,1010.7 884.7,1010.6 885.3,1010.1 886.0,1010.0 886.6,1010.4 887.2,1009.8 887.9,1010.1 888.5,1009.7 889.1,1009.6 889.8,1009.4 890.4,1009.6 891.1,1009.2 891.7,1008.8 892.3,1008.8 893.0,1009.1 893.6,1008.8 894.3,1008.5 894.9,1008.3 895.5,1007.8 896.2,1007.4 896.8,1007.4 897.4,1007.0 898.1,1006.6 898.7,1006.1 899.4,1006.1 900.0,1005.9 900.6,1005.5 901.3,1004.8 901.9,1004.9 902.6,1004.2 903.2,1003.9 903.8,1003.0 904.5,1002.7 905.1,1002.2 905.7,1001.6 906.4,1001.1 907.0,1000.4 907.7,999.4 908.3,999.4 908.9,998.4 909.6,997.8 910.2,996.9 910.9,996.5 911.5,995.8 912.1,995.4 912.8,994.7 913.4,993.8 914.0,993.0 914.7,992.3 915.3,992.1 916.0,991.0 916.6,990.7 917.2,990.0 917.9,989.2 918.5,988.2 919.1,988.2 919.8,987.7 920.4,986.9 921.1,986.5 921.7,986.0 922.3,985.7 923.0,984.8 923.6,984.5 924.3,984.3 924.9,984.0 925.5,983.2 926.2,983.1 926.8,982.2 927.4,982.1 928.1,981.4 928.7,980.9 929.4,981.1 930.0,980.2 930.6,979.7 931.3,979.1 931.9,978.8 932.6,978.2 933.2,978.0 933.8,977.1 934.5,976.9 935.1,975.9 935.7,974.6 936.4,973.0 937.0,971.5 937.7,968.9 938.3,965.7 938.9,962.7 939.6,959.6 940.2,956.4 940.9,952.9 941.5,949.4 942.1,946.2 942.8,943.6 943.4,940.4 944.0,937.5 944.7,934.4 945.3,931.2 946.0,928.3 946.6,924.7 947.2,921.8 947.9,918.3 948.5,915.4 949.1,911.8 949.8,908.7 950.4,905.7 951.1,901.9 951.7,899.1 952.3,895.5 953.0,891.7 953.6,888.3 954.3,883.8 954.9,879.6 955.5,875.2 956.2,871.5 956.8,867.1 957.4,863.4 958.1,859.8 958.7,857.1 959.4,854.8 960.0,852.1 960.6,849.4 961.3,846.3 961.9,841.8 962.6,837.3 963.2,832.5 963.8,827.6 964.5,823.4 965.1,819.2 965.7,815.6 966.4,812.1 967.0,808.7 967.7,805.5 968.3,801.8 968.9,799.2 969.6,796.7 970.2,793.8 970.9,791.1 971.5,788.7 972.1,785.9 972.8,784.4 973.4,782.9 974.0,782.0 974.7,780.9 975.3,780.2 976.0,779.6 976.6,778.3 977.2,777.7 977.9,777.2 978.5,776.4 979.1,776.4 979.8,775.5 980.4,774.4 981.1,774.2 981.7,774.0 982.3,773.9 983.0,773.9 983.6,774.8 984.3,775.4 984.9,776.1 985.5,777.2 986.2,778.5 986.8,779.6 987.4,781.2 988.1,782.8 988.7,785.3 989.4,787.4 990.0,789.9 990.6,791.7 991.3,793.2 991.9,795.2 992.6,796.6 993.2,798.3 993.8,800.9 994.5,803.5 995.1,807.2 995.7,810.6 996.4,814.7 997.0,818.5 997.7,822.1 998.3,826.1 998.9,830.2 999.6,834.4 1000.2,838.8 1000.9,842.6 1001.5,846.6 1002.1,849.5 1002.8,852.8 1003.4,855.6 1004.0,858.9 1004.7,862.6 1005.3,866.1 1006.0,870.3 1006.6,874.5 1007.2,878.7 1007.9,883.1 1008.5,886.9 1009.1,890.4 1009.8,893.8 1010.4,897.6 1011.1,901.4 1011.7,905.1 1012.3,907.9 1013.0,911.8 1013.6,914.8 1014.3,917.3 1014.9,920.7 1015.5,923.2 1016.2,925.7 1016.8,928.7 1017.4,931.0 1018.1,933.2 1018.7,935.6 1019.4,937.3 1020.0,939.3 1020.6,940.2 1021.3,941.0 1021.9,941.9 1022.6,943.0 1023.2,943.4 1023.8,944.5 1024.5,944.7 1025.1,945.2 1025.7,946.1 1026.4,946.7 1027.0,946.9 1027.7,948.0 1028.3,948.8 1028.9,949.2 1029.6,949.4 1030.2,950.5 1030.9,950.6 1031.5,951.3 1032.1,951.6 1032.8,952.2 1033.4,953.3 1034.0,953.6 1034.7,954.4 1035.3,955.6 1036.0,956.0 1036.6,956.6 1037.2,957.5 1037.9,958.8 1038.5,959.7 1039.1,960.8 1039.8,961.9 1040.4,963.0 1041.1,964.5 1041.7,965.7 1042.3,966.7 1043.0,968.4 1043.6,969.3 1044.3,969.8 1044.9,971.2 1045.5,972.2 1046.2,972.6 1046.8,973.9 1047.4,974.9 1048.1,975.6 1048.7,976.3 1049.4,977.2 1050.0,977.9 1050.6,979.4 1051.3,980.3 1051.9,981.0 1052.6,982.7 1053.2,983.6 1053.8,984.4 1054.5,985.4 1055.1,986.6 1055.7,987.7 1056.4,988.5 1057.0,989.5 1057.7,990.4 1058.3,991.2 1058.9,992.4 1059.6,993.6 1060.2,993.9 1060.9,995.2 1061.5,996.0 1062.1,996.4 1062.8,997.5 1063.4,997.7 1064.0,998.0 1064.7,998.4 1065.3,998.0 1066.0,998.8 1066.6,998.9 1067.2,998.4 1067.9,998.7 1068.5,999.3 1069.1,998.9 1069.8,998.8 1070.4,999.7 1071.1,999.7 1071.7,999.5 1072.3,999.9 1073.0,1000.3 1073.6,1000.2 1074.3,999.6"/>
<path stroke="#ff0000" stroke-linejoin="round" stroke-linecap="round" d="M1824.9,1002.9 1825.5,1002.8 1826.2,1002.1 1826.8,1001.4 1827.4,1001.6 1828.1,1001.1 1828.7,999.8 1829.4,999.4 1830.0,999.3 1830.6,998.4 1831.3,998.2 1831.9,997.4 1832.6,997.2 1833.2,996.2 1833.8,995.5 1834.5,995.3 1835.1,994.2 1835.7,994.0 1836.4,992.8 1837.0,991.2 1837.7,989.6 1838.3,987.8 1838.9,986.1 1839.6,984.4 1840.2,982.8 1840.9,980.8 1841.5,979.9 1842.1,979.0 1842.8,977.9 1843.4,977.7 1844.0,976.8 1844.7,976.2 1845.3,975.5 1846.0,974.8 1846.6,973.8 1847.2,973.5 1847.9,972.4 1848.5,971.9 1849.1,970.7 1849.8,969.8 1850.4,968.5 1851.1,967.3 1851.7,966.3 1852.3,965.4 1853.0,963.9 1853.6,962.9 1854.3,961.9 1854.9,961.2 1855.5,960.2 1856.2,959.7 1856.8,958.8 1857.4,958.0 1858.1,957.3 1858.7,956.7 1859.4,955.9 1860.0,955.2 1860.6,954.4 1861.3,953.6 1861.9,953.0 1862.6,952.0 1863.2,951.2 1863.8,950.6 1864.5,949.6 1865.1,948.6 1865.7,947.5 1866.4,945.9 1867.0,944.3 1867.7,941.6 1868.3,938.5 1868.9,935.3 1869.6,932.5 1870.2,930.3 1870.9,928.9 1871.5,927.2 1872.1,925.6 1872.8,924.0 1873.4,923.1 1874.0,921.8 1874.7,920.7 1875.3,919.4 1876.0,918.8 1876.6,917.7 1877.2,916.7 1877.9,915.8 1878.5,914.8 1879.1,914.2 1879.8,913.8 1880.4,913.6 1881.1,913.1 1881.7,912.8 1882.3,912.6 1883.0,912.1 1883.6,911.6 1884.3,911.4 1884.9,911.3 1885.5,911.1 1886.2,911.3 1886.8,911.3 1887.4,911.0 1888.1,911.3 1888.7,911.6 1889.4,912.0 1890.0,912.0 1890.6,912.6 1891.3,913.1 1891.9,913.5 1892.6,913.8 1893.2,914.4 1893.8,915.2 1894.5,915.7 1895.1,916.3 1895.7,916.9 1896.4,918.1 1897.0,918.5 1897.7,919.0 1898.3,919.7 1898.9,919.9 1899.6,919.8 1900.2,920.3 1900.9,920.2 1901.5,920.2 1902.1,920.6 1902.8,920.4 1903.4,920.6 1904.0,920.7 1904.7,921.0 1905.3,921.5 1906.0,921.7 1906.6,922.0 1907.2,923.1 1907.9,924.0 1908.5,924.8 1909.1,926.4 1909.8,927.5 1910.4,929.0 1911.1,930.3 1911.7,931.7 1912.3,933.1 1913.0,935.0 1913.6,936.5 1914.3,938.5 1914.9,940.2 1915.5,941.6 1916.2,943.1 1916.8,944.0 1917.4,945.2 1918.1,946.0 1918.7,947.3 1919.4,948.5 1920.0,949.7 1920.6,951.3 1921.3,952.6 1921.9,955.0 1922.6,957.8 1923.2,960.4 1923.8,963.1 1924.5,965.2 1925.1,966.8 1925.7,968.9 1926.4,970.4 1927.0,972.2 1927.7,974.1 1928.3,975.5 1928.9,976.6 1929.6,977.6 1930.2,978.0 1930.9,978.7 1931.5,979.3 1932.1,979.8 1932.8,980.3 1933.4,980.8 1934.0,981.4 1934.7,982.3 1935.3,983.5 1936.0,984.5 1936.6,985.6 1937.2,987.3 1937.9,988.3 1938.5,989.8 1939.1,990.7 1939.8,991.8 1940.4,993.0 1941.1,993.7 1941.7,994.7 1942.3,995.4 1943.0,996.2 1943.6,997.1 1944.3,997.9 1944.9,998.5 1945.5,998.9 1946.2,999.5 1946.8,999.8 1947.4,999.6 1948.1,1000.1 1948.7,1000.2 1949.4,1000.5 1950.0,1000.5 1950.6,1000.4 1951.3,1000.9 1951.9,1001.0 1952.6,1001.0 1953.2,1000.9 1953.8,1001.2 1954.5,1001.5 1955.1,1001.2 1955.7,1001.7 1956.4,1002.0 1957.0,1002.2 1957.7,1001.9 1958.3,1002.2 1958.9,1002.3 1959.6,1002.3 1960.2,1002.6 1960.9,1002.5 1961.5,1002.6 1962.1,1002.7 1962.8,1002.1 1963.4,1001.8 1964.0,1001.6 1964.7,1001.2 1965.3,1000.7 1966.0,1000.5 1966.6,999.8 1967.2,999.7 1967.9,999.6 1968.5,999.5 1969.1,999.3 1969.8,999.8 1970.4,1000.0 1971.1,1000.2 1971.7,1000.6 1972.3,1001.0 1973.0,1001.4 1973.6,1002.1 1974.3,1002.5 1974.9,1003.2 1975.5,1003.7 1976.2,1004.6 1976.8,1005.2 1977.4,1006.0 1978.1,1006.2 1978.7,1006.9 1979.4,1007.1 1980.0,1007.5 1980.6,1007.4 1981.3,1007.6 1981.9,1007.3 1982.6,1007.3 1983.2,1007.4 1983.8,1006.9 1984.5,1007.0 1985.1,1007.1 1985.7,1007.0 1986.4,1007.1 1987.0,1006.8 1987.7,1006.9 1988.3,1007.0 1988.9,1006.5 1989.6,1006.8 1990.2,1006.5 1990.9,1006.8 1991.5,1006.6 1992.1,1006.6 1992.8,1006.5 1993.4,1006.5 1994.0,1006.6 1994.7,1007.0 1995.3,1007.1 1996.0,1007.1 1996.6,1007.3 1997.2,1007.6 1997.9,1007.9 1998.5,1007.9 1999.1,1008.1 1999.8,1008.2 2000.4,1008.5 2001.1,1008.7 2001.7,1008.8 2002.3,1008.9 2003.0,1009.0 2003.6,1009.3 2004.3,1009.2 2004.9,1009.4 2005.5,1009.3 2006.2,1009.4 2006.8,1009.4 2007.4,1009.5 2008.1,1009.5 2008.7,1009.6 2009.4,1009.8 2010.0,1009.7 2010.6,1010.0 2011.3,1009.9 2011.9,1010.1 2012.6,1010.1 2013.2,1010.5 2013.8,1010.6 2014.5,1010.7 2015.1,1011.0 2015.7,1011.0 2016.4,1011.2 2017.0,1011.3 2017.7,1011.7 2018.3,1012.2 2018.9,1012.4 2019.6,1012.8 2020.2,1012.7 2020.9,1012.9 2021.5,1013.2 2022.1,1013.3 2022.8,1013.6 2023.4,1013.5 2024.0,1013.8 2024.7,1013.8 2025.3,1013.6 2026.0,1013.8 2026.6,1013.7 2027.2,1013.6 2027.9,1013.8 2028.5,1013.8 2029.1,1013.8 2029.8,1013.8 2030.4,1013.6 2031.1,1013.9 2031.7,1013.9 2032.3,1013.8 2033.0,1013.7 2033.6,1013.6 2034.3,1013.6 2034.9,1013.7 2035.5,1013.7 2036.2,1013.7 2036.8,1013.7 2037.4,1013.4 2038.1,1013.4 2038.7,1013.4 2039.4,1013.4 2040.0,1013.3 2040.6,1013.1 2041.3,1013.1 2041.9,1013.2 2042.6,1013.3 2043.2,1013.2 2043.8,1013.0 2044.5,1012.7 2045.1,1013.1 2045.7,1013.1 2046.4,1012.8 2047.0,1012.9 2047.7,1013.3 2048.3,1012.9 2048.9,1013.4 2049.6,1013.5 2050.2,1013.6 2050.9,1013.4 2051.5,1013.8 2052.1,1013.9 2052.8,1013.6 2053.4,1014.1 2054.0,1014.3 2054.7,1014.1 2055.3,1014.6 2056.0,1014.3 2056.6,1014.8 2057.2,1014.5 2057.9,1014.6 2058.5,1014.8 2059.1,1015.3 2059.8,1015.3 2060.4,1015.5 2061.1,1015.9 2061.7,1015.9 2062.3,1016.3 2063.0,1016.5 2063.6,1016.7 2064.3,1016.9 2064.9,1016.7 2065.5,1016.7 2066.2,1016.9 2066.8,1016.7 2067.4,1017.0 2068.1,1016.7 2068.7,1016.7 2069.4,1016.8 2070.0,1016.8 2070.6,1016.5 2071.3,1016.4 2071.9,1016.6 2072.6,1016.4 2073.2,1016.3 2073.8,1016.3 2074.5,1016.0 2075.1,1015.9 2075.7,1016.3 2076.4,1016.0 2077.0,1016.0 2077.7,1016.3 2078.3,1016.2 2078.9,1016.4 2079.6,1016.0 2080.2,1016.5 2080.9,1016.3 2081.5,1016.6 2082.1,1016.3 2082.8,1016.3 2083.4,1016.8 2084.0,1016.6 2084.7,1016.6 2085.3,1016.8 2086.0,1016.8 2086.6,1016.9 2087.2,1016.9 2087.9,1017.2 2088.5,1017.0 2089.1,1017.1 2089.8,1017.1 2090.4,1017.2 2091.1,1017.7 2091.7,1017.4 2092.3,1017.5 2093.0,1017.9 2093.6,1017.7 2094.3,1018.1 2094.9,1018.3 2095.5,1018.1 2096.2,1018.1 2096.8,1018.5 2097.4,1018.4 2098.1,1018.7 2098.7,1018.7 2099.4,1019.1 2100.0,1019.4 2100.6,1019.8 2101.3,1020.2 2101.9,1020.0 2102.6,1020.6 2103.2,1020.3 2103.8,1020.5 2104.5,1020.7 2105.1,1021.1 2105.7,1020.9 2106.4,1020.7 2107.0,1020.7 2107.7,1020.0 2108.3,1019.8 2108.9,1019.5 2109.6,1018.9 2110.2,1018.5 2110.9,1018.1 2111.5,1017.6 2112.1,1017.1 2112.8,1016.9 2113.4,1016.7 2114.0,1016.8 2114.7,1016.8 2115.3,1016.6 2116.0,1016.2 2116.6,1016.6 2117.2,1016.3 2117.9,1016.1 2118.5,1016.1 2119.1,1016.0 2119.8,1016.1 2120.4,1016.3"/>
</g></g>
<text transform="translate(131.32,62.05) scale(1.0190,1)" font-size="56.00">1.0</text>
<text transform="translate(131.79,206.63) scale(1.0190,1)" font-size="56.00">0.9</text>
<text transform="translate(131.57,351.21) scale(1.0190,1)" font-size="56.00">0.8</text>
<text transform="translate(131.96,495.79) scale(1.0190,1)" font-size="56.00">0.7</text>
<text transform="translate(131.60,640.36) scale(1.0190,1)" font-size="56.00">0.6</text>
<text transform="translate(131.49,784.94) scale(1.0190,1)" font-size="56.00">0.5</text>
<text transform="translate(130.76,929.52) scale(1.0190,1)" font-size="56.00">0.4</text>
<text transform="translate(131.61,1074.10) scale(1.0190,1)" font-size="56.00">0.3</text>
<text transform="translate(197.94,1137.90) scale(1.0140,1)" font-size="56.00">400</text>
<text transform="translate(466.72,1137.90) scale(0.9980,1)" font-size="56.00">500</text>
<text transform="translate(734.13,1137.90) scale(0.9980,1)" font-size="56.00">600</text>
<text transform="translate(1001.79,1137.90) scale(0.9980,1)" font-size="56.00">700</text>
<text transform="translate(1269.68,1137.90) scale(0.9980,1)" font-size="56.00">800</text>
<text transform="translate(1537.25,1137.90) scale(0.9980,1)" font-size="56.00">900</text>
<text transform="translate(1788.55,1137.90) scale(0.9980,1)" font-size="56.00">1000</text>
<text transform="translate(861.58,1219.60) scale(1.0334,1)" font-size="59.20">Wavelength (nm)</text>
<g transform="translate(70.10,1000.10) rotate(-90)"><text transform="translate(-4.98,0.00) scale(0.9862,1)" font-size="61.50">Kubelka-Munk function F(R) (a.u.)</text></g>
<path d="M1484.30,98.55 H1629.10" stroke="#ff0000" stroke-width="9.00" stroke-linecap="round" fill="none"/>
<text transform="translate(1663.75,120.10) scale(1.0144,1)" font-size="63.60">2 mol%</text>
<path d="M1484.30,178.90 H1629.10" stroke="#008000" stroke-width="9.00" stroke-linecap="round" fill="none"/>
<text transform="translate(1665.92,199.90) scale(1.0063,1)" font-size="63.60">10 mol%</text>
<path d="M1484.30,259.30 H1629.10" stroke="#0000ff" stroke-width="9.00" stroke-linecap="round" fill="none"/>
<text transform="translate(1665.92,279.90) scale(1.0063,1)" font-size="63.60">14.3 mol%</text>
<text transform="translate(515.40,115.80) scale(1.0035,1)" font-size="32.60">2</text>
<text transform="translate(535.33,146.60) scale(0.9933,1)" font-size="56.60">H</text>
<text transform="translate(578.63,168.10) scale(1.0138,1)" font-size="32.60">11/2</text>
<text transform="translate(433.57,701.80) scale(0.9010,1)" font-size="32.60">4</text>
<text transform="translate(452.21,732.20) scale(0.9545,1)" font-size="56.60">F</text>
<text transform="translate(489.98,753.70) scale(0.9358,1)" font-size="32.60">7/2</text>
<text transform="translate(620.80,806.20) scale(0.8706,1)" font-size="32.60">4</text>
<text transform="translate(639.50,837.40) scale(0.9746,1)" font-size="56.60">S</text>
<text transform="translate(676.57,858.10) scale(0.9820,1)" font-size="32.60">3/2</text>
<text transform="translate(874.76,697.00) scale(0.9193,1)" font-size="32.60">4</text>
<text transform="translate(893.13,728.40) scale(0.9725,1)" font-size="56.60">F</text>
<text transform="translate(928.30,750.40) scale(1.0086,1)" font-size="32.60">9/2</text>
<text transform="translate(1270.86,855.80) scale(0.9193,1)" font-size="32.60">4</text>
<text transform="translate(1289.10,887.50) scale(0.9287,1)" font-size="56.60">I</text>
<text transform="translate(1304.38,909.60) scale(1.0229,1)" font-size="32.60">9/2</text>
<text transform="translate(1738.98,819.60) scale(0.8949,1)" font-size="32.60">4</text>
<text transform="translate(1757.60,850.40) scale(1.0235,1)" font-size="56.60">I</text>
<text transform="translate(1775.59,871.50) scale(1.0296,1)" font-size="32.60">11/2</text>
</svg>
</body></html>
